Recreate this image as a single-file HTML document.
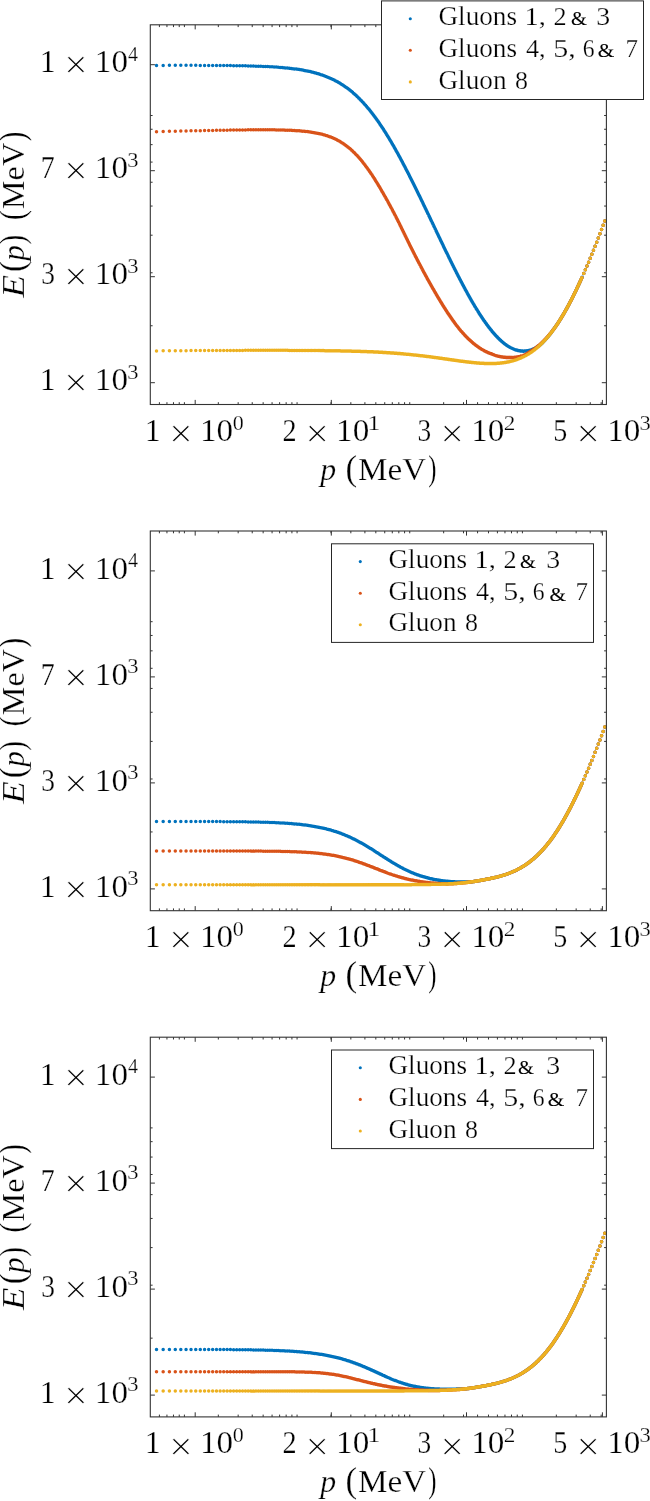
<!DOCTYPE html><html><head><meta charset="utf-8"><title>E(p) vs p</title><style>html,body{margin:0;padding:0;background:#fff;}svg{display:block;}text{fill:#000;stroke:#fff;stroke-width:0.25px;}text.x{stroke-width:0.6px;}text.a{stroke:#000;stroke-width:0.12px;}</style></head><body><svg width="650" height="1501" viewBox="0 0 650 1501" font-family="'Liberation Serif', serif" fill="#000"><g>
<path d="M156.51 65.41h0M163.17 65.39h0M169.41 65.37h0M175.28 65.36h0M180.81 65.36h0M186.05 65.36h0M191.02 65.36h0M195.75 65.37h0M200.27 65.38h0M204.58 65.40h0M208.71 65.41h0M212.68 65.44h0M216.49 65.46h0M220.15 65.49h0M223.69 65.52h0M227.10 65.55h0M230.40 65.59h0M233.59 65.63h0M236.67 65.68h0M239.67 65.73h0M242.57 65.78h0M245.39 65.84h0M248.14 65.91h0M250.80 65.97h0M253.40 66.05h0M255.93 66.13h0M258.40 66.21h0M260.80 66.30h0M263.15 66.39h0M265.44 66.49h0M267.68 66.60h0M269.87 66.71h0M272.01 66.83h0M274.11 66.96h0M276.16 67.10h0M278.17 67.24h0M280.14 67.39h0M282.07 67.54h0M283.97 67.71h0M285.82 67.88h0M287.65 68.06h0M289.44 68.25h0M291.19 68.45h0M292.92 68.66h0M294.62 68.88h0M296.28 69.11h0M297.92 69.34h0M299.54 69.59h0M301.12 69.85h0M302.68 70.12h0M304.22 70.40h0M305.73 70.69h0M307.22 70.99h0M308.69 71.30h0M310.14 71.62h0M311.56 71.96h0M312.97 72.31h0M314.35 72.66h0M315.72 73.04h0M317.06 73.42h0M318.39 73.81h0M319.70 74.22h0M320.99 74.64h0M322.27 75.07h0M323.53 75.52h0M324.77 75.98h0M326.00 76.45h0M327.21 76.93h0M328.41 77.43h0M329.60 77.94h0M330.76 78.46h0M331.92 79.00h0M333.06 79.55h0M334.19 80.11h0M335.31 80.68h0M336.41 81.27h0M337.50 81.87h0M338.58 82.49h0M339.65 83.11h0M340.70 83.75h0M341.75 84.40h0M342.78 85.07h0M343.81 85.74h0M344.82 86.43h0M345.82 87.13h0M346.81 87.85h0M347.79 88.57h0M348.76 89.31h0M349.73 90.06h0M350.68 90.82h0M351.62 91.59h0M352.56 92.37h0M353.48 93.17h0M354.40 93.97h0M355.31 94.79h0M356.21 95.61h0M357.10 96.45h0M357.99 97.30h0M358.86 98.15h0M359.73 99.02h0M360.59 99.89h0M361.45 100.78h0M362.29 101.67h0M363.13 102.57h0M363.96 103.48h0M364.79 104.40h0M365.60 105.33h0M366.42 106.26h0M367.22 107.20h0M368.02 108.15h0M368.81 109.11h0M369.59 110.07h0M370.37 111.04h0M371.14 112.01h0M371.91 113.00h0M372.67 113.98h0M373.43 114.98h0M374.18 115.98h0M374.92 116.98h0M375.66 117.99h0M376.39 119.00h0M377.11 120.02h0M377.84 121.04h0M378.55 122.07h0M379.26 123.10h0M379.97 124.14h0M380.67 125.17h0M381.36 126.21h0M382.05 127.26h0M382.74 128.31h0M383.42 129.36h0M384.10 130.41h0M384.77 131.46h0M385.44 132.52h0M386.10 133.58h0M386.76 134.64h0M387.41 135.70h0M388.06 136.76h0M388.71 137.83h0M389.35 138.89h0M389.98 139.96h0M390.62 141.03h0M391.25 142.09h0M391.87 143.16h0M392.49 144.23h0M393.11 145.30h0M393.72 146.37h0M394.33 147.44h0M394.93 148.51h0M395.54 149.58h0M396.13 150.64h0M396.73 151.71h0M397.32 152.78h0M397.91 153.84h0M398.49 154.91h0M399.07 155.97h0M399.65 157.04h0M400.22 158.10h0M400.79 159.16h0M401.36 160.22h0M401.92 161.28h0M402.48 162.33h0M403.04 163.39h0M403.59 164.44h0M404.14 165.49h0M404.69 166.54h0M405.23 167.59h0M405.78 168.63h0M406.31 169.67h0M406.85 170.71h0M407.38 171.75h0M407.91 172.79h0M408.44 173.82h0M408.96 174.85h0M409.49 175.88h0M410.00 176.91h0M410.52 177.93h0M411.03 178.95h0M411.54 179.97h0M412.05 180.99h0M412.56 182.00h0M413.06 183.01h0M413.56 184.02h0M414.06 185.02h0M414.55 186.02h0M415.04 187.02h0M415.53 188.01h0M416.02 189.01h0M416.51 190.00h0M416.99 190.98h0M417.47 191.96h0M417.95 192.94h0M418.42 193.92h0M418.90 194.89h0M419.37 195.86h0M419.84 196.83h0M420.31 197.79h0M420.77 198.75h0M421.23 199.71h0M421.69 200.66h0M422.15 201.61h0M422.61 202.56h0M423.06 203.50h0M423.51 204.44h0M423.96 205.38h0M424.41 206.31h0M424.85 207.24h0M425.30 208.17h0M425.74 209.09h0M426.18 210.01h0M426.62 210.92h0M427.05 211.84h0M427.48 212.74h0M427.92 213.65h0M428.35 214.55h0M428.77 215.45h0M429.20 216.34h0M429.62 217.23h0M430.05 218.12h0M430.47 219.00h0M430.89 219.88h0M431.30 220.76h0M431.72 221.63h0M432.13 222.50h0M432.54 223.37h0M432.95 224.23h0M433.36 225.09h0M433.77 225.94h0M434.17 226.79h0M434.58 227.64h0M434.98 228.48h0M435.38 229.32h0M435.78 230.16h0M436.17 230.99h0M436.57 231.82h0M436.96 232.65h0M437.35 233.47h0M437.74 234.29h0M438.13 235.10h0M438.52 235.92h0M438.91 236.72h0M439.29 237.53h0M439.67 238.33h0M440.05 239.12h0M440.43 239.92h0M440.81 240.71h0M441.19 241.49h0M441.56 242.28h0M441.94 243.06h0M442.31 243.83h0M442.68 244.60h0M443.05 245.37h0M443.42 246.14h0M443.79 246.90h0M444.15 247.66h0M444.52 248.41h0M444.88 249.16h0M445.24 249.91h0M445.60 250.65h0M445.96 251.39h0M446.32 252.13h0M446.67 252.87h0M447.03 253.60h0M447.38 254.32h0M447.74 255.04h0M448.09 255.76h0M448.44 256.48h0M448.79 257.19h0M449.13 257.90h0M449.48 258.61h0M449.82 259.31h0M450.17 260.01h0M450.51 260.70h0M450.85 261.40h0M451.19 262.09h0M451.53 262.77h0M451.87 263.45h0M452.21 264.13h0M452.54 264.81h0M452.88 265.48h0M453.21 266.15h0M453.54 266.81h0M453.87 267.47h0M454.20 268.13h0M454.53 268.79h0M454.86 269.44h0M455.18 270.09h0M455.51 270.73h0M455.83 271.37h0M456.16 272.01h0M456.48 272.65h0M456.80 273.28h0M457.12 273.91h0M457.44 274.53h0M457.76 275.16h0M458.08 275.77h0M458.39 276.39h0M458.71 277.00h0M459.02 277.61h0M459.33 278.22h0M459.65 278.82h0M459.96 279.42h0M460.27 280.02h0M460.58 280.61h0M460.88 281.20h0M461.19 281.79h0M461.50 282.37h0M461.80 282.95h0M462.11 283.53h0M462.41 284.10h0M462.71 284.67h0M463.01 285.24h0M463.31 285.81h0M463.61 286.37h0M463.91 286.93h0M464.21 287.48h0M464.51 288.04h0M464.80 288.59h0M465.10 289.13h0M465.39 289.68h0M465.68 290.22h0M465.98 290.76h0M466.27 291.29h0M466.56 291.82h0M466.85 292.35h0M467.14 292.88h0M467.43 293.40h0M467.71 293.92h0M468.00 294.43h0M468.29 294.95h0M468.57 295.46h0M468.85 295.97h0M469.14 296.47h0M469.42 296.97h0M469.70 297.47h0M469.98 297.97h0M470.26 298.46h0M470.54 298.95h0M470.82 299.44h0M471.10 299.92h0M471.37 300.40h0M471.65 300.88h0M472.20 301.83h0M472.74 302.77h0M473.29 303.69h0M473.83 304.61h0M474.37 305.51h0M474.90 306.41h0M475.43 307.29h0M475.96 308.16h0M476.49 309.02h0M477.01 309.87h0M477.53 310.70h0M478.05 311.53h0M478.56 312.35h0M479.07 313.16h0M479.58 313.95h0M480.09 314.74h0M480.60 315.51h0M481.10 316.28h0M481.60 317.03h0M482.09 317.77h0M482.59 318.51h0M483.08 319.23h0M483.57 319.95h0M484.05 320.65h0M484.54 321.35h0M485.02 322.03h0M485.50 322.70h0M485.98 323.37h0M486.45 324.03h0M486.92 324.67h0M487.39 325.31h0M487.86 325.94h0M488.33 326.55h0M488.79 327.16h0M489.25 327.76h0M489.71 328.35h0M490.17 328.93h0M490.62 329.50h0M491.08 330.07h0M491.53 330.62h0M491.98 331.17h0M492.42 331.70h0M492.87 332.23h0M493.31 332.75h0M493.75 333.26h0M494.19 333.76h0M494.63 334.26h0M495.06 334.74h0M495.49 335.22h0M495.93 335.69h0M496.35 336.15h0M496.78 336.60h0M497.21 337.04h0M497.63 337.48h0M498.05 337.91h0M498.47 338.33h0M498.89 338.74h0M499.31 339.14h0M499.72 339.54h0M500.13 339.93h0M500.54 340.31h0M500.95 340.68h0M501.56 341.23h0M502.17 341.76h0M502.77 342.27h0M503.37 342.76h0M503.97 343.24h0M504.56 343.71h0M505.15 344.16h0M505.74 344.59h0M506.32 345.00h0M506.90 345.41h0M507.47 345.79h0M508.04 346.16h0M508.61 346.52h0M509.18 346.86h0M509.74 347.19h0M510.30 347.50h0M510.85 347.80h0M511.40 348.08h0M511.95 348.35h0M512.50 348.61h0M513.04 348.85h0M513.58 349.09h0M514.12 349.30h0M514.65 349.51h0M515.18 349.70h0M515.71 349.88h0M516.24 350.04h0M516.93 350.24h0M517.63 350.42h0M518.31 350.58h0M518.99 350.72h0M519.67 350.84h0M520.34 350.94h0M521.01 351.01h0M521.67 351.07h0M522.33 351.11h0M522.99 351.13h0M523.64 351.13h0M524.28 351.11h0M524.93 351.07h0M525.56 351.02h0M526.20 350.95h0M526.82 350.86h0M527.45 350.75h0M528.07 350.63h0M528.69 350.49h0M529.30 350.33h0M529.91 350.16h0M530.52 349.98h0M531.12 349.78h0M531.72 349.57h0M532.31 349.35h0M532.90 349.11h0M533.49 348.86h0M534.08 348.59h0M534.66 348.31h0M535.23 348.02h0M535.81 347.72h0M536.38 347.40h0M536.94 347.07h0M537.51 346.73h0M538.07 346.38h0M538.63 346.01h0M539.18 345.64h0M539.73 345.25h0M540.28 344.85h0M540.69 344.48h0M541.10 344.08h0M541.50 343.69h0M541.91 343.29h0M542.31 342.88h0M542.71 342.48h0M543.11 342.07h0M543.51 341.65h0M543.90 341.23h0M544.30 340.81h0M544.69 340.39h0M545.08 339.96h0M545.47 339.53h0M545.86 339.10h0M546.24 338.66h0M546.63 338.22h0M547.01 337.78h0M547.39 337.34h0M547.77 336.89h0M548.15 336.44h0M548.53 335.98h0M548.91 335.52h0M549.28 335.06h0M549.65 334.60h0M550.03 334.14h0M550.40 333.67h0M550.77 333.20h0M551.13 332.72h0M551.50 332.24h0M551.86 331.76h0M552.23 331.28h0M552.59 330.80h0M552.95 330.31h0M553.31 329.82h0M553.67 329.33h0M554.03 328.83h0M554.38 328.34h0M554.74 327.84h0M555.09 327.34h0M555.44 326.83h0M555.79 326.32h0M556.14 325.82h0M556.49 325.30h0M556.83 324.79h0M557.18 324.28h0M557.52 323.76h0M557.87 323.24h0M558.21 322.72h0M558.55 322.19h0M558.89 321.67h0M559.23 321.14h0M559.57 320.61h0M559.90 320.08h0M560.24 319.55h0M560.57 319.01h0M560.90 318.47h0M561.23 317.93h0M561.56 317.39h0M561.89 316.85h0M562.22 316.31h0M562.55 315.76h0M562.88 315.22h0M563.20 314.67h0M563.52 314.12h0M563.85 313.56h0M564.17 313.01h0M564.49 312.46h0M564.81 311.90h0M565.13 311.34h0M565.44 310.78h0M565.76 310.22h0M566.08 309.66h0M566.39 309.10h0M566.70 308.53h0M567.02 307.97h0M567.33 307.40h0M567.64 306.83h0M567.95 306.26h0M568.26 305.69h0M568.56 305.12h0M568.87 304.55h0M569.18 303.98h0M569.48 303.40h0M569.78 302.82h0M570.09 302.25h0M570.39 301.67h0M570.69 301.09h0M570.99 300.51h0M571.29 299.93h0M571.59 299.35h0M571.88 298.77h0M572.18 298.19h0M572.48 297.60h0M572.77 297.02h0M573.06 296.43h0M573.36 295.85h0M573.65 295.26h0M573.94 294.67h0M574.23 294.08h0M574.52 293.50h0M574.81 292.91h0M575.10 292.32h0M575.38 291.73h0M575.67 291.14h0M575.95 290.54h0M576.24 289.95h0M576.52 289.36h0M576.80 288.77h0M577.09 288.17h0M577.37 287.58h0M577.65 286.99h0M577.93 286.39h0M578.21 285.80h0M578.48 285.20h0M578.76 284.60h0M579.04 284.01h0M579.31 283.41h0M579.59 282.82h0M579.86 282.22h0M580.13 281.62h0M580.41 281.02h0M580.68 280.43h0M580.95 279.83h0M581.22 279.23h0M581.49 278.63h0M581.76 278.03h0M582.12 277.22h0M583.74 273.56h0M585.36 269.84h0M586.98 266.05h0M588.60 262.21h0M590.22 258.31h0M591.84 254.35h0M593.46 250.34h0M595.08 246.28h0M596.70 242.17h0M598.32 238.01h0M599.94 233.81h0M601.56 229.56h0M603.18 225.27h0M604.80 220.93h0" stroke="#0072BD" stroke-width="3.50" stroke-linecap="round" fill="none"/>
<path d="M156.51 131.68h0M163.17 131.51h0M169.41 131.35h0M175.28 131.20h0M180.81 131.07h0M186.05 130.95h0M191.02 130.83h0M195.75 130.73h0M200.27 130.63h0M204.58 130.54h0M208.71 130.46h0M212.68 130.38h0M216.49 130.31h0M220.15 130.24h0M223.69 130.18h0M227.10 130.13h0M230.40 130.08h0M233.59 130.03h0M236.67 129.99h0M239.67 129.95h0M242.57 129.92h0M245.39 129.89h0M248.14 129.87h0M250.80 129.84h0M253.40 129.83h0M255.93 129.82h0M258.40 129.81h0M260.80 129.80h0M263.15 129.80h0M265.44 129.81h0M267.68 129.82h0M269.87 129.83h0M272.01 129.85h0M274.11 129.87h0M276.16 129.90h0M278.17 129.93h0M280.14 129.97h0M282.07 130.02h0M283.97 130.07h0M285.82 130.13h0M287.65 130.19h0M289.44 130.26h0M291.19 130.34h0M292.92 130.43h0M294.62 130.52h0M296.28 130.63h0M297.92 130.74h0M299.54 130.86h0M301.12 130.99h0M302.68 131.13h0M304.22 131.28h0M305.73 131.44h0M307.22 131.61h0M308.69 131.80h0M310.14 131.99h0M311.56 132.20h0M312.97 132.42h0M314.35 132.65h0M315.72 132.90h0M317.06 133.16h0M318.39 133.44h0M319.70 133.73h0M320.99 134.04h0M322.27 134.36h0M323.53 134.70h0M324.77 135.06h0M326.00 135.43h0M327.21 135.82h0M328.41 136.23h0M329.60 136.66h0M330.76 137.11h0M331.92 137.57h0M333.06 138.05h0M334.19 138.56h0M335.31 139.08h0M336.41 139.62h0M337.50 140.18h0M338.58 140.77h0M339.65 141.37h0M340.70 141.99h0M341.75 142.64h0M342.78 143.30h0M343.81 143.98h0M344.82 144.69h0M345.82 145.41h0M346.81 146.16h0M347.79 146.92h0M348.76 147.71h0M349.73 148.51h0M350.68 149.34h0M351.62 150.18h0M352.56 151.04h0M353.48 151.92h0M354.40 152.82h0M355.31 153.73h0M356.21 154.66h0M357.10 155.61h0M357.99 156.57h0M358.86 157.55h0M359.73 158.55h0M360.59 159.56h0M361.45 160.58h0M362.29 161.61h0M363.13 162.66h0M363.96 163.72h0M364.79 164.79h0M365.60 165.88h0M366.42 166.97h0M367.22 168.07h0M368.02 169.18h0M368.81 170.31h0M369.59 171.43h0M370.37 172.57h0M371.14 173.72h0M371.91 174.87h0M372.67 176.02h0M373.43 177.18h0M374.18 178.35h0M374.92 179.52h0M375.66 180.70h0M376.39 181.88h0M377.11 183.06h0M377.84 184.24h0M378.55 185.43h0M379.26 186.62h0M379.97 187.81h0M380.67 189.00h0M381.36 190.19h0M382.05 191.38h0M382.74 192.57h0M383.42 193.76h0M384.10 194.95h0M384.77 196.13h0M385.44 197.32h0M386.10 198.50h0M386.76 199.68h0M387.41 200.86h0M388.06 202.04h0M388.71 203.22h0M389.35 204.39h0M389.98 205.56h0M390.62 206.73h0M391.25 207.90h0M391.87 209.07h0M392.49 210.24h0M393.11 211.41h0M393.72 212.58h0M394.33 213.74h0M394.93 214.91h0M395.54 216.08h0M396.13 217.25h0M396.73 218.42h0M397.32 219.58h0M397.91 220.75h0M398.49 221.92h0M399.07 223.09h0M399.65 224.26h0M400.22 225.42h0M400.79 226.58h0M401.36 227.74h0M401.92 228.90h0M402.48 230.04h0M403.04 231.19h0M403.59 232.33h0M404.14 233.46h0M404.69 234.59h0M405.23 235.71h0M405.78 236.82h0M406.31 237.93h0M406.85 239.03h0M407.38 240.12h0M407.91 241.20h0M408.44 242.27h0M408.96 243.34h0M409.49 244.39h0M410.00 245.44h0M410.52 246.48h0M411.03 247.51h0M411.54 248.53h0M412.05 249.55h0M412.56 250.55h0M413.06 251.55h0M413.56 252.54h0M414.06 253.52h0M414.55 254.50h0M415.04 255.46h0M415.53 256.42h0M416.02 257.37h0M416.51 258.32h0M416.99 259.25h0M417.47 260.18h0M417.95 261.11h0M418.42 262.02h0M418.90 262.93h0M419.37 263.83h0M419.84 264.72h0M420.31 265.61h0M420.77 266.49h0M421.23 267.36h0M421.69 268.23h0M422.15 269.09h0M422.61 269.95h0M423.06 270.79h0M423.51 271.63h0M423.96 272.47h0M424.41 273.30h0M424.85 274.12h0M425.30 274.94h0M425.74 275.75h0M426.18 276.55h0M426.62 277.35h0M427.05 278.14h0M427.48 278.93h0M427.92 279.71h0M428.35 280.49h0M428.77 281.26h0M429.20 282.02h0M429.62 282.78h0M430.05 283.53h0M430.47 284.28h0M430.89 285.02h0M431.30 285.76h0M431.72 286.49h0M432.13 287.22h0M432.54 287.94h0M432.95 288.66h0M433.36 289.37h0M433.77 290.08h0M434.17 290.78h0M434.58 291.48h0M434.98 292.17h0M435.38 292.86h0M435.78 293.54h0M436.17 294.22h0M436.57 294.90h0M436.96 295.56h0M437.35 296.23h0M437.74 296.89h0M438.13 297.55h0M438.52 298.20h0M438.91 298.84h0M439.29 299.48h0M439.67 300.12h0M440.05 300.75h0M440.43 301.38h0M440.81 302.00h0M441.19 302.62h0M441.56 303.24h0M441.94 303.84h0M442.31 304.45h0M442.68 305.05h0M443.05 305.64h0M443.42 306.23h0M443.79 306.82h0M444.15 307.40h0M444.52 307.98h0M444.88 308.55h0M445.24 309.12h0M445.60 309.68h0M445.96 310.24h0M446.32 310.79h0M446.67 311.34h0M447.03 311.88h0M447.38 312.42h0M447.74 312.96h0M448.09 313.49h0M448.44 314.01h0M448.79 314.54h0M449.13 315.05h0M449.48 315.56h0M449.82 316.07h0M450.17 316.58h0M450.51 317.07h0M450.85 317.57h0M451.19 318.06h0M451.53 318.55h0M451.87 319.03h0M452.21 319.50h0M452.54 319.98h0M452.88 320.44h0M453.21 320.91h0M453.54 321.37h0M453.87 321.82h0M454.20 322.27h0M454.53 322.72h0M454.86 323.16h0M455.51 324.03h0M456.16 324.89h0M456.80 325.72h0M457.44 326.54h0M458.08 327.35h0M458.71 328.14h0M459.33 328.91h0M459.96 329.66h0M460.58 330.40h0M461.19 331.13h0M461.80 331.84h0M462.41 332.53h0M463.01 333.21h0M463.61 333.87h0M464.21 334.52h0M464.80 335.16h0M465.39 335.78h0M465.98 336.39h0M466.56 336.99h0M467.14 337.57h0M467.71 338.14h0M468.29 338.70h0M468.85 339.24h0M469.42 339.78h0M469.98 340.30h0M470.54 340.81h0M471.10 341.31h0M471.65 341.79h0M472.20 342.27h0M472.74 342.74h0M473.29 343.19h0M473.83 343.64h0M474.37 344.07h0M474.90 344.50h0M475.43 344.91h0M475.96 345.32h0M476.49 345.71h0M477.01 346.10h0M477.53 346.48h0M478.05 346.84h0M478.56 347.20h0M479.07 347.55h0M479.58 347.90h0M480.09 348.23h0M480.60 348.56h0M481.10 348.88h0M481.60 349.19h0M482.09 349.49h0M482.59 349.78h0M483.08 350.07h0M483.57 350.35h0M484.05 350.62h0M484.54 350.89h0M485.26 351.28h0M485.98 351.65h0M486.69 352.00h0M487.39 352.34h0M488.10 352.67h0M488.79 352.99h0M489.48 353.29h0M490.17 353.58h0M490.85 353.85h0M491.53 354.12h0M492.20 354.37h0M492.87 354.61h0M493.53 354.84h0M494.19 355.06h0M494.84 355.26h0M495.49 355.46h0M496.14 355.65h0M496.78 355.82h0M497.42 355.99h0M498.05 356.15h0M498.68 356.30h0M499.31 356.43h0M499.93 356.56h0M500.54 356.69h0M501.16 356.80h0M501.77 356.90h0M502.37 357.00h0M502.97 357.09h0M503.57 357.17h0M504.17 357.25h0M504.76 357.31h0M505.35 357.37h0M505.93 357.42h0M506.51 357.47h0M507.09 357.51h0M507.66 357.54h0M508.23 357.56h0M508.80 357.58h0M509.36 357.60h0M509.92 357.60h0M510.48 357.60h0M511.04 357.60h0M511.59 357.59h0M512.32 357.56h0M513.04 357.53h0M513.76 357.49h0M514.48 357.43h0M515.18 357.37h0M515.89 357.29h0M516.59 357.20h0M517.28 357.09h0M517.97 356.97h0M518.65 356.83h0M519.33 356.67h0M520.01 356.50h0M520.68 356.31h0M521.34 356.11h0M522.00 355.88h0M522.66 355.65h0M523.31 355.39h0M523.96 355.12h0M524.60 354.83h0M525.24 354.51h0M525.88 354.16h0M526.51 353.79h0M527.14 353.42h0M527.76 353.04h0M528.38 352.65h0M528.84 352.35h0M529.30 352.05h0M529.76 351.74h0M530.37 351.35h0M530.97 350.98h0M531.57 350.61h0M532.16 350.23h0M532.76 349.84h0M533.34 349.45h0M533.93 349.05h0M534.51 348.64h0M535.09 348.23h0M535.66 347.81h0M536.24 347.38h0M536.80 346.95h0M537.37 346.51h0M537.93 346.06h0M538.49 345.60h0M539.04 345.14h0M539.59 344.67h0M540.14 344.20h0M540.69 343.72h0M541.23 343.23h0M541.77 342.73h0M542.17 342.36h0M542.58 341.98h0M542.98 341.59h0M543.37 341.20h0M543.77 340.81h0M544.16 340.42h0M544.56 340.02h0M544.95 339.62h0M545.34 339.21h0M545.73 338.80h0M546.12 338.39h0M546.50 337.97h0M546.88 337.55h0M547.27 337.12h0M547.65 336.70h0M548.03 336.26h0M548.41 335.83h0M548.78 335.39h0M549.16 334.95h0M549.53 334.50h0M549.90 334.06h0M550.27 333.60h0M550.64 333.15h0M551.01 332.69h0M551.38 332.23h0M551.74 331.76h0M552.11 331.30h0M552.47 330.82h0M552.83 330.35h0M553.19 329.87h0M553.55 329.39h0M553.91 328.91h0M554.26 328.42h0M554.62 327.93h0M554.97 327.44h0M555.32 326.95h0M555.67 326.45h0M556.02 325.95h0M556.37 325.44h0M556.72 324.94h0M557.07 324.43h0M557.41 323.91h0M557.75 323.40h0M558.10 322.88h0M558.44 322.36h0M558.78 321.84h0M559.12 321.31h0M559.45 320.79h0M559.79 320.26h0M560.12 319.72h0M560.46 319.19h0M560.79 318.65h0M561.12 318.11h0M561.45 317.57h0M561.78 317.03h0M562.11 316.49h0M562.44 315.94h0M562.77 315.40h0M563.09 314.85h0M563.42 314.30h0M563.74 313.75h0M564.06 313.20h0M564.38 312.64h0M564.70 312.09h0M565.02 311.53h0M565.34 310.97h0M565.66 310.41h0M565.97 309.85h0M566.29 309.29h0M566.60 308.72h0M566.91 308.16h0M567.22 307.59h0M567.54 307.02h0M567.84 306.45h0M568.15 305.88h0M568.46 305.31h0M568.77 304.74h0M569.07 304.17h0M569.38 303.59h0M569.68 303.02h0M569.99 302.44h0M570.29 301.86h0M570.59 301.28h0M570.89 300.71h0M571.19 300.13h0M571.49 299.54h0M571.79 298.96h0M572.08 298.38h0M572.38 297.80h0M572.67 297.21h0M572.97 296.63h0M573.26 296.04h0M573.55 295.46h0M573.84 294.87h0M574.13 294.28h0M574.42 293.69h0M574.71 293.10h0M575.00 292.51h0M575.29 291.92h0M575.57 291.33h0M575.86 290.74h0M576.14 290.15h0M576.43 289.56h0M576.71 288.96h0M576.99 288.37h0M577.27 287.78h0M577.55 287.18h0M577.83 286.59h0M578.11 285.99h0M578.39 285.40h0M578.67 284.80h0M578.94 284.21h0M579.22 283.61h0M579.50 283.01h0M579.77 282.42h0M580.04 281.82h0M580.32 281.22h0M580.59 280.62h0M580.86 280.03h0M581.13 279.43h0M581.40 278.83h0M581.67 278.23h0M581.94 277.63h0M583.74 273.56h0M585.36 269.84h0M586.98 266.05h0M588.60 262.21h0M590.22 258.31h0M591.84 254.35h0M593.46 250.34h0M595.08 246.28h0M596.70 242.17h0M598.32 238.01h0M599.94 233.81h0M601.56 229.56h0M603.18 225.27h0M604.80 220.93h0" stroke="#D95319" stroke-width="3.50" stroke-linecap="round" fill="none"/>
<path d="M156.51 350.90h0M163.17 350.84h0M169.41 350.79h0M175.28 350.74h0M180.81 350.69h0M186.05 350.66h0M191.02 350.62h0M195.75 350.59h0M200.27 350.56h0M204.58 350.54h0M208.71 350.51h0M212.68 350.49h0M216.49 350.48h0M220.15 350.46h0M223.69 350.44h0M227.10 350.43h0M230.40 350.42h0M233.59 350.41h0M236.67 350.40h0M239.67 350.39h0M242.57 350.38h0M245.39 350.37h0M248.14 350.37h0M250.80 350.36h0M253.40 350.36h0M255.93 350.35h0M258.40 350.35h0M260.80 350.35h0M263.15 350.35h0M265.44 350.35h0M267.68 350.35h0M269.87 350.35h0M272.01 350.35h0M274.11 350.35h0M276.16 350.35h0M278.17 350.35h0M280.14 350.36h0M282.07 350.36h0M283.97 350.36h0M285.82 350.37h0M287.65 350.37h0M289.44 350.38h0M291.19 350.38h0M292.92 350.39h0M294.62 350.40h0M296.28 350.40h0M297.92 350.41h0M299.54 350.42h0M301.12 350.43h0M302.68 350.44h0M304.22 350.45h0M305.73 350.45h0M307.22 350.46h0M308.69 350.47h0M310.14 350.49h0M311.56 350.50h0M312.97 350.51h0M314.35 350.52h0M315.72 350.53h0M317.06 350.54h0M318.39 350.56h0M319.70 350.57h0M320.99 350.59h0M322.27 350.60h0M323.53 350.61h0M324.77 350.63h0M326.00 350.64h0M327.21 350.66h0M328.41 350.68h0M329.60 350.69h0M330.76 350.71h0M331.92 350.73h0M333.06 350.74h0M334.19 350.76h0M335.31 350.78h0M336.41 350.80h0M337.50 350.82h0M338.58 350.84h0M339.65 350.86h0M340.70 350.88h0M341.75 350.90h0M342.78 350.92h0M343.81 350.94h0M344.82 350.96h0M345.82 350.99h0M346.81 351.01h0M347.79 351.03h0M348.76 351.06h0M349.73 351.08h0M350.68 351.10h0M351.62 351.13h0M352.56 351.15h0M353.48 351.18h0M354.40 351.21h0M355.31 351.23h0M356.21 351.26h0M357.10 351.29h0M357.99 351.31h0M358.86 351.34h0M359.73 351.37h0M360.59 351.40h0M361.45 351.43h0M362.29 351.46h0M363.13 351.49h0M363.96 351.52h0M364.79 351.55h0M365.60 351.58h0M366.42 351.61h0M367.22 351.64h0M368.02 351.67h0M368.81 351.71h0M369.59 351.74h0M370.37 351.77h0M371.14 351.80h0M371.91 351.84h0M372.67 351.87h0M373.43 351.91h0M374.18 351.94h0M374.92 351.98h0M375.66 352.01h0M376.39 352.05h0M377.11 352.09h0M377.84 352.12h0M378.55 352.16h0M379.26 352.20h0M379.97 352.24h0M380.67 352.27h0M381.36 352.31h0M382.05 352.35h0M382.74 352.39h0M383.42 352.43h0M384.10 352.47h0M384.77 352.51h0M385.44 352.55h0M386.10 352.59h0M386.76 352.63h0M387.41 352.68h0M388.06 352.72h0M388.71 352.76h0M389.35 352.80h0M389.98 352.85h0M390.62 352.89h0M391.25 352.93h0M391.87 352.98h0M392.49 353.02h0M393.11 353.06h0M393.72 353.11h0M394.33 353.15h0M394.93 353.20h0M395.54 353.25h0M396.13 353.29h0M396.73 353.34h0M397.32 353.38h0M397.91 353.43h0M398.49 353.48h0M399.07 353.52h0M399.65 353.57h0M400.22 353.62h0M400.79 353.67h0M401.36 353.72h0M401.92 353.76h0M402.48 353.81h0M403.04 353.86h0M403.59 353.91h0M404.14 353.96h0M405.23 354.06h0M406.31 354.16h0M407.38 354.26h0M408.44 354.36h0M409.49 354.47h0M410.52 354.57h0M411.54 354.67h0M412.56 354.78h0M413.56 354.88h0M414.55 354.99h0M415.53 355.09h0M416.51 355.20h0M417.47 355.31h0M418.42 355.42h0M419.37 355.53h0M420.31 355.63h0M421.23 355.74h0M422.15 355.85h0M423.06 355.96h0M423.96 356.07h0M424.85 356.18h0M425.74 356.29h0M426.62 356.40h0M427.48 356.51h0M428.35 356.62h0M429.20 356.73h0M430.05 356.84h0M430.89 356.95h0M431.72 357.06h0M432.54 357.17h0M433.36 357.28h0M434.17 357.39h0M434.98 357.50h0M435.78 357.61h0M436.57 357.72h0M437.35 357.83h0M438.13 357.93h0M438.91 358.04h0M439.67 358.15h0M440.43 358.26h0M441.19 358.36h0M441.94 358.47h0M442.68 358.57h0M443.42 358.68h0M444.15 358.78h0M444.88 358.89h0M445.60 358.99h0M446.32 359.09h0M447.03 359.19h0M447.74 359.29h0M448.44 359.39h0M449.13 359.49h0M449.82 359.59h0M450.51 359.69h0M451.19 359.79h0M451.87 359.88h0M452.54 359.98h0M453.21 360.07h0M453.87 360.17h0M454.53 360.26h0M455.18 360.35h0M455.83 360.44h0M456.48 360.53h0M457.12 360.62h0M457.76 360.71h0M458.39 360.80h0M459.02 360.88h0M459.65 360.97h0M460.27 361.05h0M460.88 361.13h0M461.50 361.21h0M462.11 361.29h0M462.71 361.37h0M463.31 361.45h0M463.91 361.52h0M464.51 361.60h0M465.10 361.67h0M465.68 361.75h0M466.27 361.82h0M466.85 361.89h0M467.43 361.96h0M468.00 362.02h0M468.57 362.09h0M469.14 362.16h0M469.70 362.22h0M470.26 362.28h0M470.82 362.34h0M471.37 362.40h0M471.92 362.46h0M472.47 362.52h0M473.29 362.60h0M474.10 362.68h0M474.90 362.76h0M475.70 362.83h0M476.49 362.90h0M477.27 362.96h0M478.05 363.03h0M478.82 363.09h0M479.58 363.14h0M480.34 363.20h0M481.10 363.24h0M481.84 363.29h0M482.59 363.33h0M483.32 363.37h0M484.05 363.41h0M484.78 363.44h0M485.50 363.46h0M486.21 363.49h0M486.92 363.51h0M487.63 363.53h0M488.33 363.54h0M489.02 363.55h0M489.71 363.55h0M490.40 363.56h0M491.08 363.55h0M491.75 363.55h0M492.42 363.54h0M493.09 363.52h0M493.75 363.51h0M494.41 363.48h0M495.06 363.46h0M495.71 363.43h0M496.35 363.40h0M496.99 363.36h0M497.63 363.32h0M498.26 363.27h0M498.89 363.22h0M499.51 363.17h0M500.13 363.11h0M500.75 363.05h0M501.36 362.99h0M501.97 362.92h0M502.57 362.84h0M503.17 362.76h0M503.77 362.68h0M504.37 362.60h0M504.96 362.51h0M505.54 362.41h0M506.12 362.31h0M506.70 362.21h0M507.28 362.10h0M507.85 361.99h0M508.42 361.88h0M508.99 361.76h0M509.55 361.63h0M510.11 361.51h0M510.67 361.37h0M511.22 361.24h0M511.77 361.10h0M512.32 360.95h0M512.86 360.80h0M513.40 360.65h0M513.94 360.49h0M514.48 360.33h0M515.01 360.16h0M515.54 359.99h0M516.06 359.82h0M516.59 359.64h0M517.11 359.45h0M517.63 359.27h0M518.31 359.01h0M518.99 358.75h0M519.67 358.47h0M520.34 358.19h0M521.01 357.91h0M521.67 357.61h0M522.33 357.31h0M522.99 357.00h0M523.64 356.68h0M524.28 356.36h0M524.93 356.03h0M525.56 355.69h0M526.20 355.34h0M526.82 354.98h0M527.45 354.62h0M528.07 354.25h0M528.69 353.88h0M529.30 353.49h0M529.91 353.10h0M530.52 352.70h0M531.12 352.30h0M531.72 351.88h0M532.31 351.46h0M532.90 351.04h0M533.49 350.60h0M534.08 350.16h0M534.66 349.71h0M535.09 349.37h0M535.52 349.03h0M535.95 348.68h0M536.38 348.33h0M536.80 347.97h0M537.23 347.61h0M537.65 347.25h0M538.07 346.88h0M538.49 346.51h0M538.90 346.14h0M539.32 345.76h0M539.73 345.38h0M540.14 345.00h0M540.55 344.61h0M540.96 344.21h0M541.37 343.82h0M541.77 343.42h0M542.17 343.02h0M542.58 342.61h0M542.98 342.20h0M543.37 341.79h0M543.77 341.37h0M544.16 340.95h0M544.56 340.53h0M544.95 340.11h0M545.34 339.68h0M545.73 339.25h0M546.12 338.81h0M546.50 338.37h0M546.88 337.93h0M547.27 337.49h0M547.65 337.04h0M548.03 336.59h0M548.41 336.13h0M548.78 335.68h0M549.16 335.22h0M549.53 334.76h0M549.90 334.29h0M550.27 333.82h0M550.64 333.35h0M551.01 332.88h0M551.38 332.40h0M551.74 331.92h0M552.11 331.44h0M552.47 330.96h0M552.83 330.47h0M553.19 329.98h0M553.55 329.49h0M553.91 329.00h0M554.26 328.50h0M554.62 328.00h0M554.97 327.50h0M555.32 327.00h0M555.67 326.49h0M556.02 325.99h0M556.37 325.48h0M556.72 324.96h0M557.07 324.45h0M557.41 323.93h0M557.75 323.41h0M558.10 322.89h0M558.44 322.37h0M558.78 321.84h0M559.12 321.32h0M559.45 320.79h0M559.79 320.26h0M560.12 319.72h0M560.46 319.19h0M560.79 318.65h0M561.12 318.11h0M561.45 317.57h0M561.78 317.03h0M562.11 316.49h0M562.44 315.94h0M562.77 315.40h0M563.09 314.85h0M563.42 314.30h0M563.74 313.75h0M564.06 313.20h0M564.38 312.64h0M564.70 312.09h0M565.02 311.53h0M565.34 310.97h0M565.66 310.41h0M565.97 309.85h0M566.29 309.29h0M566.60 308.72h0M566.91 308.16h0M567.22 307.59h0M567.54 307.02h0M567.84 306.45h0M568.15 305.88h0M568.46 305.31h0M568.77 304.74h0M569.07 304.17h0M569.38 303.59h0M569.68 303.02h0M569.99 302.44h0M570.29 301.86h0M570.59 301.28h0M570.89 300.71h0M571.19 300.13h0M571.49 299.54h0M571.79 298.96h0M572.08 298.38h0M572.38 297.80h0M572.67 297.21h0M572.97 296.63h0M573.26 296.04h0M573.55 295.46h0M573.84 294.87h0M574.13 294.28h0M574.42 293.69h0M574.71 293.10h0M575.00 292.51h0M575.29 291.92h0M575.57 291.33h0M575.86 290.74h0M576.14 290.15h0M576.43 289.56h0M576.71 288.96h0M576.99 288.37h0M577.27 287.78h0M577.55 287.18h0M577.83 286.59h0M578.11 285.99h0M578.39 285.40h0M578.67 284.80h0M578.94 284.21h0M579.22 283.61h0M579.50 283.01h0M579.77 282.42h0M580.04 281.82h0M580.32 281.22h0M580.59 280.62h0M580.86 280.03h0M581.13 279.43h0M581.40 278.83h0M581.67 278.23h0M581.94 277.63h0M583.74 273.56h0M585.36 269.84h0M586.98 266.05h0M588.60 262.21h0M590.22 258.31h0M591.84 254.35h0M593.46 250.34h0M595.08 246.28h0M596.70 242.17h0M598.32 238.01h0M599.94 233.81h0M601.56 229.56h0M603.18 225.27h0M604.80 220.93h0" stroke="#EDB120" stroke-width="3.50" stroke-linecap="round" fill="none"/>
</g>
<path d="M159.40 404.50v-2.3M159.40 24.80v2.3M166.95 404.50v-2.3M166.95 24.80v2.3M173.48 404.50v-2.3M173.48 24.80v2.3M179.24 404.50v-2.3M179.24 24.80v2.3M184.40 404.50v-2.3M184.40 24.80v2.3M218.32 404.50v-2.3M218.32 24.80v2.3M238.16 404.50v-2.3M238.16 24.80v2.3M252.23 404.50v-2.3M252.23 24.80v2.3M263.15 404.50v-2.3M263.15 24.80v2.3M272.07 404.50v-2.3M272.07 24.80v2.3M279.62 404.50v-2.3M279.62 24.80v2.3M286.15 404.50v-2.3M286.15 24.80v2.3M291.91 404.50v-2.3M291.91 24.80v2.3M297.07 404.50v-2.3M297.07 24.80v2.3M330.99 404.50v-2.3M330.99 24.80v2.3M350.83 404.50v-2.3M350.83 24.80v2.3M364.90 404.50v-2.3M364.90 24.80v2.3M375.82 404.50v-2.3M375.82 24.80v2.3M384.74 404.50v-2.3M384.74 24.80v2.3M392.29 404.50v-2.3M392.29 24.80v2.3M398.82 404.50v-2.3M398.82 24.80v2.3M404.58 404.50v-2.3M404.58 24.80v2.3M409.74 404.50v-2.3M409.74 24.80v2.3M443.66 404.50v-2.3M443.66 24.80v2.3M463.50 404.50v-2.3M463.50 24.80v2.3M477.57 404.50v-2.3M477.57 24.80v2.3M488.49 404.50v-2.3M488.49 24.80v2.3M497.41 404.50v-2.3M497.41 24.80v2.3M504.96 404.50v-2.3M504.96 24.80v2.3M511.49 404.50v-2.3M511.49 24.80v2.3M517.25 404.50v-2.3M517.25 24.80v2.3M522.41 404.50v-2.3M522.41 24.80v2.3M556.33 404.50v-2.3M556.33 24.80v2.3M576.17 404.50v-2.3M576.17 24.80v2.3M590.24 404.50v-2.3M590.24 24.80v2.3M601.16 404.50v-2.3M601.16 24.80v2.3M195.20 404.50v-4.6M195.20 24.80v4.6M331.30 404.50v-4.6M331.30 24.80v4.6M466.50 404.50v-4.6M466.50 24.80v4.6M602.40 404.50v-4.6M602.40 24.80v4.6M150.30 325.75h2.3M606.40 325.75h-2.3M150.30 272.78h2.3M606.40 272.78h-2.3M150.30 235.20h2.3M606.40 235.20h-2.3M150.30 206.05h2.3M606.40 206.05h-2.3M150.30 182.23h2.3M606.40 182.23h-2.3M150.30 162.09h2.3M606.40 162.09h-2.3M150.30 144.65h2.3M606.40 144.65h-2.3M150.30 129.26h2.3M606.40 129.26h-2.3M150.30 115.50h2.3M606.40 115.50h-2.3M150.30 64.70h4.6M606.40 64.70h-4.6M150.30 170.70h4.6M606.40 170.70h-4.6M150.30 276.70h4.6M606.40 276.70h-4.6M150.30 382.70h4.6M606.40 382.70h-4.6" stroke="#333333" stroke-width="1" fill="none"/>
<rect x="150.30" y="24.80" width="456.10" height="379.70" fill="none" stroke="#333333" stroke-width="1.1"/>
<g>
<path d="M156.51 821.48h0M163.17 821.48h0M169.41 821.48h0M175.28 821.49h0M180.81 821.50h0M186.05 821.50h0M191.02 821.51h0M195.75 821.52h0M200.27 821.53h0M204.58 821.55h0M208.71 821.56h0M212.68 821.58h0M216.49 821.59h0M220.15 821.61h0M223.69 821.64h0M227.10 821.66h0M230.40 821.69h0M233.59 821.71h0M236.67 821.74h0M239.67 821.78h0M242.57 821.81h0M245.39 821.85h0M248.14 821.90h0M250.80 821.94h0M253.40 821.99h0M255.93 822.04h0M258.40 822.10h0M260.80 822.16h0M263.15 822.22h0M265.44 822.29h0M267.68 822.36h0M269.87 822.44h0M272.01 822.52h0M274.11 822.61h0M276.16 822.70h0M278.17 822.79h0M280.14 822.89h0M282.07 823.00h0M283.97 823.11h0M285.82 823.23h0M287.65 823.35h0M289.44 823.48h0M291.19 823.61h0M292.92 823.75h0M294.62 823.90h0M296.28 824.05h0M297.92 824.21h0M299.54 824.37h0M301.12 824.54h0M302.68 824.72h0M304.22 824.91h0M305.73 825.10h0M307.22 825.30h0M308.69 825.50h0M310.14 825.72h0M311.56 825.94h0M312.97 826.16h0M314.35 826.40h0M315.72 826.64h0M317.06 826.89h0M318.39 827.14h0M319.70 827.41h0M320.99 827.68h0M322.27 827.96h0M323.53 828.24h0M324.77 828.53h0M326.00 828.83h0M327.21 829.14h0M328.41 829.45h0M329.60 829.78h0M330.76 830.11h0M331.92 830.44h0M333.06 830.78h0M334.19 831.13h0M335.31 831.49h0M336.41 831.85h0M337.50 832.22h0M338.58 832.60h0M339.65 832.98h0M340.70 833.37h0M341.75 833.76h0M342.78 834.16h0M343.81 834.57h0M344.82 834.98h0M345.82 835.39h0M346.81 835.82h0M347.79 836.24h0M348.76 836.67h0M349.73 837.11h0M350.68 837.55h0M351.62 838.00h0M352.56 838.45h0M353.48 838.90h0M354.40 839.35h0M355.31 839.81h0M356.21 840.28h0M357.10 840.74h0M357.99 841.21h0M358.86 841.68h0M359.73 842.15h0M360.59 842.63h0M361.45 843.10h0M362.29 843.58h0M363.13 844.06h0M363.96 844.54h0M364.79 845.02h0M365.60 845.50h0M366.42 845.99h0M367.22 846.47h0M368.02 846.95h0M368.81 847.43h0M369.59 847.91h0M370.37 848.39h0M371.14 848.87h0M371.91 849.35h0M372.67 849.83h0M373.43 850.30h0M374.18 850.78h0M374.92 851.25h0M375.66 851.72h0M376.39 852.19h0M377.11 852.66h0M377.84 853.12h0M378.55 853.58h0M379.26 854.04h0M379.97 854.49h0M380.67 854.94h0M381.36 855.39h0M382.05 855.83h0M382.74 856.28h0M383.42 856.71h0M384.10 857.15h0M384.77 857.58h0M385.44 858.00h0M386.10 858.43h0M386.76 858.84h0M387.41 859.26h0M388.06 859.67h0M388.71 860.07h0M389.35 860.47h0M389.98 860.87h0M390.62 861.26h0M391.25 861.65h0M391.87 862.03h0M392.49 862.41h0M393.11 862.78h0M393.72 863.15h0M394.33 863.51h0M394.93 863.87h0M395.54 864.22h0M396.13 864.57h0M396.73 864.92h0M397.32 865.26h0M397.91 865.59h0M398.49 865.92h0M399.07 866.25h0M399.65 866.57h0M400.22 866.88h0M400.79 867.19h0M401.36 867.50h0M401.92 867.80h0M402.48 868.10h0M403.04 868.39h0M403.59 868.67h0M404.14 868.96h0M404.69 869.23h0M405.23 869.51h0M405.78 869.78h0M406.31 870.04h0M406.85 870.30h0M407.38 870.56h0M407.91 870.81h0M408.44 871.05h0M408.96 871.30h0M409.49 871.53h0M410.00 871.77h0M410.52 872.00h0M411.03 872.22h0M411.54 872.45h0M412.05 872.66h0M413.06 873.09h0M414.06 873.50h0M415.04 873.89h0M416.02 874.27h0M416.99 874.63h0M417.95 874.98h0M418.90 875.32h0M419.84 875.64h0M420.77 875.96h0M421.69 876.26h0M422.61 876.54h0M423.51 876.82h0M424.41 877.09h0M425.30 877.34h0M426.18 877.59h0M427.05 877.82h0M427.92 878.05h0M428.77 878.26h0M429.62 878.47h0M430.47 878.67h0M431.30 878.86h0M432.13 879.04h0M432.95 879.21h0M433.77 879.38h0M434.58 879.54h0M435.38 879.69h0M436.17 879.84h0M436.96 879.98h0M437.74 880.11h0M438.52 880.24h0M439.29 880.36h0M440.05 880.48h0M440.81 880.59h0M441.56 880.69h0M442.31 880.79h0M443.05 880.89h0M443.79 880.98h0M444.52 881.06h0M445.24 881.15h0M445.96 881.22h0M446.67 881.30h0M447.38 881.37h0M448.09 881.43h0M448.79 881.49h0M449.48 881.55h0M450.17 881.60h0M450.85 881.66h0M451.53 881.70h0M452.21 881.75h0M452.88 881.79h0M453.54 881.83h0M454.20 881.86h0M454.86 881.90h0M455.51 881.93h0M456.16 881.95h0M456.80 881.98h0M457.44 882.00h0M458.08 882.02h0M458.71 882.04h0M459.33 882.05h0M459.96 882.07h0M460.58 882.08h0M461.19 882.09h0M461.80 882.09h0M462.41 882.10h0M463.01 882.11h0M463.61 882.11h0M464.21 882.11h0M464.80 882.11h0M465.39 882.11h0M465.98 882.10h0M466.56 882.10h0M467.14 882.08h0M467.71 882.07h0M468.29 882.05h0M468.85 882.03h0M469.42 882.01h0M469.98 881.98h0M470.54 881.95h0M471.10 881.91h0M471.65 881.83h0M472.20 881.75h0M472.74 881.67h0M473.56 881.55h0M474.37 881.43h0M475.17 881.30h0M475.96 881.18h0M476.75 881.05h0M477.53 880.92h0M478.31 880.79h0M479.07 880.66h0M479.84 880.53h0M480.60 880.40h0M481.35 880.27h0M482.09 880.14h0M482.83 880.01h0M483.57 879.88h0M484.30 879.74h0M485.02 879.61h0M485.74 879.48h0M486.45 879.34h0M487.16 879.20h0M487.86 879.07h0M488.56 878.93h0M489.25 878.79h0M489.94 878.64h0M490.62 878.50h0M491.30 878.36h0M491.98 878.21h0M492.65 878.06h0M493.31 877.91h0M493.97 877.76h0M494.63 877.61h0M495.28 877.45h0M495.93 877.30h0M496.57 877.14h0M497.21 876.97h0M497.84 876.81h0M498.47 876.64h0M499.10 876.48h0M499.72 876.30h0M500.34 876.13h0M500.95 875.96h0M501.56 875.78h0M502.17 875.60h0M502.77 875.41h0M503.37 875.23h0M503.97 875.04h0M504.56 874.84h0M505.15 874.65h0M505.74 874.45h0M506.32 874.25h0M506.90 874.05h0M507.47 873.84h0M508.04 873.63h0M508.61 873.42h0M509.18 873.21h0M509.74 872.99h0M510.30 872.77h0M510.85 872.55h0M511.40 872.32h0M511.95 872.09h0M512.50 871.85h0M513.04 871.62h0M513.58 871.38h0M514.12 871.14h0M514.65 870.89h0M515.18 870.64h0M515.71 870.39h0M516.24 870.13h0M516.76 869.88h0M517.28 869.61h0M517.80 869.35h0M518.31 869.08h0M518.82 868.81h0M519.33 868.53h0M519.84 868.26h0M520.34 867.97h0M520.84 867.69h0M521.34 867.40h0M521.84 867.11h0M522.33 866.82h0M522.82 866.52h0M523.31 866.22h0M523.80 865.91h0M524.28 865.60h0M524.77 865.29h0M525.24 864.98h0M525.72 864.66h0M526.20 864.34h0M526.67 864.01h0M527.14 863.69h0M527.61 863.36h0M528.07 863.02h0M528.53 862.68h0M529.00 862.34h0M529.45 862.00h0M529.91 861.65h0M530.37 861.30h0M530.82 860.95h0M531.27 860.59h0M531.72 860.23h0M532.16 859.87h0M532.61 859.50h0M533.05 859.13h0M533.49 858.76h0M533.93 858.38h0M534.37 858.00h0M534.80 857.62h0M535.23 857.23h0M535.66 856.84h0M536.09 856.45h0M536.52 856.06h0M536.94 855.66h0M537.37 855.26h0M537.79 854.85h0M538.21 854.44h0M538.63 854.03h0M539.04 853.62h0M539.46 853.20h0M539.87 852.78h0M540.28 852.36h0M540.69 851.94h0M541.10 851.51h0M541.50 851.08h0M541.91 850.64h0M542.31 850.21h0M542.71 849.77h0M543.11 849.33h0M543.51 848.88h0M543.90 848.43h0M544.30 847.98h0M544.69 847.53h0M545.08 847.07h0M545.47 846.62h0M545.86 846.16h0M546.24 845.69h0M546.63 845.23h0M547.01 844.76h0M547.39 844.29h0M547.77 843.81h0M548.15 843.33h0M548.53 842.86h0M548.91 842.37h0M549.28 841.89h0M549.65 841.41h0M550.03 840.92h0M550.40 840.43h0M550.77 839.93h0M551.13 839.44h0M551.50 838.94h0M551.86 838.44h0M552.23 837.94h0M552.59 837.44h0M552.95 836.93h0M553.31 836.42h0M553.67 835.91h0M554.03 835.40h0M554.38 834.88h0M554.74 834.37h0M555.09 833.85h0M555.44 833.33h0M555.79 832.81h0M556.14 832.28h0M556.49 831.76h0M556.83 831.23h0M557.18 830.70h0M557.52 830.17h0M557.87 829.63h0M558.21 829.10h0M558.55 828.56h0M558.89 828.02h0M559.23 827.48h0M559.57 826.94h0M559.90 826.40h0M560.24 825.85h0M560.57 825.31h0M560.90 824.76h0M561.23 824.21h0M561.56 823.66h0M561.89 823.11h0M562.22 822.55h0M562.55 822.00h0M562.88 821.44h0M563.20 820.88h0M563.52 820.32h0M563.85 819.76h0M564.17 819.20h0M564.49 818.64h0M564.81 818.07h0M565.13 817.51h0M565.44 816.94h0M565.76 816.37h0M566.08 815.80h0M566.39 815.23h0M566.70 814.66h0M567.02 814.09h0M567.33 813.52h0M567.64 812.94h0M567.95 812.37h0M568.26 811.79h0M568.56 811.22h0M568.87 810.64h0M569.18 810.06h0M569.48 809.48h0M569.78 808.90h0M570.09 808.32h0M570.39 807.74h0M570.69 807.15h0M570.99 806.57h0M571.29 805.99h0M571.59 805.40h0M571.88 804.82h0M572.18 804.23h0M572.48 803.64h0M572.77 803.06h0M573.06 802.47h0M573.36 801.88h0M573.65 801.29h0M573.94 800.70h0M574.23 800.11h0M574.52 799.52h0M574.81 798.93h0M575.10 798.33h0M575.38 797.74h0M575.67 797.15h0M575.95 796.55h0M576.24 795.96h0M576.52 795.37h0M576.80 794.77h0M577.09 794.18h0M577.37 793.58h0M577.65 792.99h0M577.93 792.39h0M578.21 791.79h0M578.48 791.20h0M578.76 790.60h0M579.04 790.00h0M579.31 789.41h0M579.59 788.81h0M579.86 788.21h0M580.13 787.61h0M580.41 787.02h0M580.68 786.42h0M580.95 785.82h0M581.22 785.22h0M581.49 784.62h0M581.76 784.02h0M582.12 783.21h0M583.74 779.55h0M585.36 775.83h0M586.98 772.05h0M588.60 768.22h0M590.22 764.32h0M591.84 760.38h0M593.46 756.38h0M595.08 752.33h0M596.70 748.23h0M598.32 744.09h0M599.94 739.90h0M601.56 735.66h0M603.18 731.38h0M604.80 727.06h0" stroke="#0072BD" stroke-width="3.50" stroke-linecap="round" fill="none"/>
<path d="M156.51 850.95h0M163.17 850.95h0M169.41 850.95h0M175.28 850.95h0M180.81 850.95h0M186.05 850.95h0M191.02 850.95h0M195.75 850.95h0M200.27 850.96h0M204.58 850.96h0M208.71 850.96h0M212.68 850.96h0M216.49 850.97h0M220.15 850.97h0M223.69 850.98h0M227.10 850.98h0M230.40 850.99h0M233.59 850.99h0M236.67 851.00h0M239.67 851.01h0M242.57 851.02h0M245.39 851.03h0M248.14 851.04h0M250.80 851.06h0M253.40 851.07h0M255.93 851.08h0M258.40 851.10h0M260.80 851.12h0M263.15 851.14h0M265.44 851.16h0M267.68 851.19h0M269.87 851.21h0M272.01 851.24h0M274.11 851.27h0M276.16 851.30h0M278.17 851.34h0M280.14 851.37h0M282.07 851.41h0M283.97 851.46h0M285.82 851.50h0M287.65 851.55h0M289.44 851.60h0M291.19 851.66h0M292.92 851.71h0M294.62 851.77h0M296.28 851.84h0M297.92 851.91h0M299.54 851.98h0M301.12 852.06h0M302.68 852.14h0M304.22 852.22h0M305.73 852.31h0M307.22 852.41h0M308.69 852.51h0M310.14 852.61h0M311.56 852.72h0M312.97 852.83h0M314.35 852.95h0M315.72 853.07h0M317.06 853.20h0M318.39 853.33h0M319.70 853.47h0M320.99 853.62h0M322.27 853.77h0M323.53 853.92h0M324.77 854.08h0M326.00 854.25h0M327.21 854.42h0M328.41 854.60h0M329.60 854.78h0M330.76 854.97h0M331.92 855.16h0M333.06 855.36h0M334.19 855.57h0M335.31 855.78h0M336.41 855.99h0M337.50 856.21h0M338.58 856.44h0M339.65 856.67h0M340.70 856.91h0M341.75 857.15h0M342.78 857.39h0M343.81 857.64h0M344.82 857.90h0M345.82 858.16h0M346.81 858.42h0M347.79 858.69h0M348.76 858.96h0M349.73 859.24h0M350.68 859.51h0M351.62 859.80h0M352.56 860.08h0M353.48 860.37h0M354.40 860.66h0M355.31 860.95h0M356.21 861.25h0M357.10 861.55h0M357.99 861.85h0M358.86 862.15h0M359.73 862.45h0M360.59 862.75h0M361.45 863.06h0M362.29 863.36h0M363.13 863.67h0M363.96 863.97h0M364.79 864.28h0M365.60 864.59h0M366.42 864.89h0M367.22 865.20h0M368.02 865.50h0M368.81 865.81h0M369.59 866.11h0M370.37 866.41h0M371.14 866.71h0M371.91 867.01h0M372.67 867.31h0M373.43 867.61h0M374.18 867.90h0M374.92 868.19h0M375.66 868.48h0M376.39 868.77h0M377.11 869.05h0M377.84 869.33h0M378.55 869.61h0M379.26 869.89h0M379.97 870.16h0M380.67 870.43h0M381.36 870.70h0M382.05 870.97h0M382.74 871.23h0M383.42 871.49h0M384.10 871.74h0M384.77 871.99h0M385.44 872.24h0M386.10 872.48h0M386.76 872.73h0M387.41 872.96h0M388.06 873.20h0M388.71 873.43h0M389.35 873.66h0M389.98 873.88h0M390.62 874.10h0M391.25 874.32h0M391.87 874.53h0M392.49 874.74h0M393.11 874.95h0M393.72 875.15h0M394.33 875.35h0M394.93 875.55h0M395.54 875.74h0M396.13 875.93h0M396.73 876.11h0M397.32 876.30h0M397.91 876.47h0M398.49 876.65h0M399.07 876.82h0M399.65 876.99h0M400.22 877.16h0M400.79 877.32h0M401.36 877.48h0M401.92 877.64h0M402.48 877.79h0M403.04 877.94h0M403.59 878.09h0M404.14 878.24h0M404.69 878.38h0M405.23 878.52h0M405.78 878.65h0M406.31 878.79h0M406.85 878.92h0M407.91 879.17h0M408.96 879.42h0M410.00 879.65h0M411.03 879.88h0M412.05 880.09h0M413.06 880.30h0M414.06 880.49h0M415.04 880.68h0M416.02 880.86h0M416.99 881.04h0M417.95 881.20h0M418.90 881.36h0M419.84 881.51h0M420.77 881.66h0M421.69 881.80h0M422.61 881.93h0M423.51 882.06h0M424.41 882.18h0M425.30 882.29h0M426.18 882.40h0M427.05 882.51h0M427.92 882.61h0M428.77 882.70h0M429.62 882.79h0M430.47 882.88h0M431.30 882.96h0M432.13 883.04h0M432.95 883.11h0M433.77 883.19h0M434.58 883.25h0M435.38 883.32h0M436.17 883.38h0M436.96 883.43h0M437.74 883.49h0M438.52 883.54h0M439.29 883.58h0M440.05 883.63h0M440.81 883.67h0M441.56 883.71h0M442.31 883.75h0M443.05 883.78h0M443.79 883.81h0M444.52 883.84h0M445.24 883.87h0M445.96 883.89h0M446.67 883.91h0M447.38 883.93h0M448.09 883.90h0M448.79 883.87h0M449.48 883.84h0M450.17 883.81h0M450.85 883.77h0M451.53 883.74h0M452.21 883.70h0M452.88 883.67h0M453.54 883.63h0M454.20 883.59h0M454.86 883.55h0M455.51 883.51h0M456.16 883.46h0M456.80 883.42h0M457.44 883.37h0M458.08 883.33h0M458.71 883.28h0M459.33 883.23h0M459.96 883.18h0M460.58 883.12h0M461.19 883.07h0M461.80 883.01h0M462.41 882.95h0M463.01 882.89h0M463.61 882.83h0M464.21 882.77h0M464.80 882.71h0M465.39 882.64h0M465.98 882.57h0M466.56 882.50h0M467.14 882.43h0M467.71 882.36h0M468.29 882.29h0M468.85 882.22h0M469.42 882.14h0M469.98 882.07h0M470.54 881.99h0M471.10 881.91h0M471.65 881.83h0M472.20 881.75h0M472.74 881.67h0M473.56 881.55h0M474.37 881.43h0M475.17 881.30h0M475.96 881.18h0M476.75 881.05h0M477.53 880.92h0M478.31 880.79h0M479.07 880.66h0M479.84 880.53h0M480.60 880.40h0M481.35 880.27h0M482.09 880.14h0M482.83 880.01h0M483.57 879.88h0M484.30 879.74h0M485.02 879.61h0M485.74 879.48h0M486.45 879.34h0M487.16 879.20h0M487.86 879.07h0M488.56 878.93h0M489.25 878.79h0M489.94 878.64h0M490.62 878.50h0M491.30 878.36h0M491.98 878.21h0M492.65 878.06h0M493.31 877.91h0M493.97 877.76h0M494.63 877.61h0M495.28 877.45h0M495.93 877.30h0M496.57 877.14h0M497.21 876.97h0M497.84 876.81h0M498.47 876.64h0M499.10 876.48h0M499.72 876.30h0M500.34 876.13h0M500.95 875.96h0M501.56 875.78h0M502.17 875.60h0M502.77 875.41h0M503.37 875.23h0M503.97 875.04h0M504.56 874.84h0M505.15 874.65h0M505.74 874.45h0M506.32 874.25h0M506.90 874.05h0M507.47 873.84h0M508.04 873.63h0M508.61 873.42h0M509.18 873.21h0M509.74 872.99h0M510.30 872.77h0M510.85 872.55h0M511.40 872.32h0M511.95 872.09h0M512.50 871.85h0M513.04 871.62h0M513.58 871.38h0M514.12 871.14h0M514.65 870.89h0M515.18 870.64h0M515.71 870.39h0M516.24 870.13h0M516.76 869.88h0M517.28 869.61h0M517.80 869.35h0M518.31 869.08h0M518.82 868.81h0M519.33 868.53h0M519.84 868.26h0M520.34 867.97h0M520.84 867.69h0M521.34 867.40h0M521.84 867.11h0M522.33 866.82h0M522.82 866.52h0M523.31 866.22h0M523.80 865.91h0M524.28 865.60h0M524.77 865.29h0M525.24 864.98h0M525.72 864.66h0M526.20 864.34h0M526.67 864.01h0M527.14 863.69h0M527.61 863.36h0M528.07 863.02h0M528.53 862.68h0M529.00 862.34h0M529.45 862.00h0M529.91 861.65h0M530.37 861.30h0M530.82 860.95h0M531.27 860.59h0M531.72 860.23h0M532.16 859.87h0M532.61 859.50h0M533.05 859.13h0M533.49 858.76h0M533.93 858.38h0M534.37 858.00h0M534.80 857.62h0M535.23 857.23h0M535.66 856.84h0M536.09 856.45h0M536.52 856.06h0M536.94 855.66h0M537.37 855.26h0M537.79 854.85h0M538.21 854.44h0M538.63 854.03h0M539.04 853.62h0M539.46 853.20h0M539.87 852.78h0M540.28 852.36h0M540.69 851.94h0M541.10 851.51h0M541.50 851.08h0M541.91 850.64h0M542.31 850.21h0M542.71 849.77h0M543.11 849.33h0M543.51 848.88h0M543.90 848.43h0M544.30 847.98h0M544.69 847.53h0M545.08 847.07h0M545.47 846.62h0M545.86 846.16h0M546.24 845.69h0M546.63 845.23h0M547.01 844.76h0M547.39 844.29h0M547.77 843.81h0M548.15 843.33h0M548.53 842.86h0M548.91 842.37h0M549.28 841.89h0M549.65 841.41h0M550.03 840.92h0M550.40 840.43h0M550.77 839.93h0M551.13 839.44h0M551.50 838.94h0M551.86 838.44h0M552.23 837.94h0M552.59 837.44h0M552.95 836.93h0M553.31 836.42h0M553.67 835.91h0M554.03 835.40h0M554.38 834.88h0M554.74 834.37h0M555.09 833.85h0M555.44 833.33h0M555.79 832.81h0M556.14 832.28h0M556.49 831.76h0M556.83 831.23h0M557.18 830.70h0M557.52 830.17h0M557.87 829.63h0M558.21 829.10h0M558.55 828.56h0M558.89 828.02h0M559.23 827.48h0M559.57 826.94h0M559.90 826.40h0M560.24 825.85h0M560.57 825.31h0M560.90 824.76h0M561.23 824.21h0M561.56 823.66h0M561.89 823.11h0M562.22 822.55h0M562.55 822.00h0M562.88 821.44h0M563.20 820.88h0M563.52 820.32h0M563.85 819.76h0M564.17 819.20h0M564.49 818.64h0M564.81 818.07h0M565.13 817.51h0M565.44 816.94h0M565.76 816.37h0M566.08 815.80h0M566.39 815.23h0M566.70 814.66h0M567.02 814.09h0M567.33 813.52h0M567.64 812.94h0M567.95 812.37h0M568.26 811.79h0M568.56 811.22h0M568.87 810.64h0M569.18 810.06h0M569.48 809.48h0M569.78 808.90h0M570.09 808.32h0M570.39 807.74h0M570.69 807.15h0M570.99 806.57h0M571.29 805.99h0M571.59 805.40h0M571.88 804.82h0M572.18 804.23h0M572.48 803.64h0M572.77 803.06h0M573.06 802.47h0M573.36 801.88h0M573.65 801.29h0M573.94 800.70h0M574.23 800.11h0M574.52 799.52h0M574.81 798.93h0M575.10 798.33h0M575.38 797.74h0M575.67 797.15h0M575.95 796.55h0M576.24 795.96h0M576.52 795.37h0M576.80 794.77h0M577.09 794.18h0M577.37 793.58h0M577.65 792.99h0M577.93 792.39h0M578.21 791.79h0M578.48 791.20h0M578.76 790.60h0M579.04 790.00h0M579.31 789.41h0M579.59 788.81h0M579.86 788.21h0M580.13 787.61h0M580.41 787.02h0M580.68 786.42h0M580.95 785.82h0M581.22 785.22h0M581.49 784.62h0M581.76 784.02h0M582.12 783.21h0M583.74 779.55h0M585.36 775.83h0M586.98 772.05h0M588.60 768.22h0M590.22 764.32h0M591.84 760.38h0M593.46 756.38h0M595.08 752.33h0M596.70 748.23h0M598.32 744.09h0M599.94 739.90h0M601.56 735.66h0M603.18 731.38h0M604.80 727.06h0" stroke="#D95319" stroke-width="3.50" stroke-linecap="round" fill="none"/>
<path d="M156.51 884.82h0M163.17 884.82h0M169.41 884.82h0M175.28 884.82h0M180.81 884.82h0M186.05 884.82h0M191.02 884.82h0M195.75 884.82h0M200.27 884.82h0M204.58 884.82h0M208.71 884.82h0M212.68 884.82h0M216.49 884.82h0M220.15 884.82h0M223.69 884.82h0M227.10 884.82h0M230.40 884.82h0M233.59 884.82h0M236.67 884.82h0M239.67 884.82h0M242.57 884.82h0M245.39 884.82h0M248.14 884.82h0M250.80 884.82h0M253.40 884.82h0M255.93 884.82h0M258.40 884.82h0M260.80 884.82h0M263.15 884.82h0M265.44 884.82h0M267.68 884.82h0M269.87 884.82h0M272.01 884.82h0M274.11 884.82h0M276.16 884.82h0M278.17 884.82h0M280.14 884.82h0M282.07 884.82h0M283.97 884.82h0M285.82 884.82h0M287.65 884.82h0M289.44 884.82h0M291.19 884.82h0M292.92 884.82h0M294.62 884.82h0M296.28 884.82h0M297.92 884.82h0M299.54 884.82h0M301.12 884.82h0M302.68 884.82h0M304.22 884.82h0M305.73 884.82h0M307.22 884.82h0M308.69 884.82h0M310.14 884.82h0M311.56 884.82h0M312.97 884.82h0M314.35 884.82h0M315.72 884.82h0M317.06 884.82h0M318.39 884.82h0M319.70 884.82h0M320.99 884.82h0M322.27 884.82h0M323.53 884.82h0M324.77 884.82h0M326.00 884.82h0M327.21 884.82h0M328.41 884.82h0M329.60 884.82h0M330.76 884.82h0M331.92 884.82h0M333.06 884.82h0M334.19 884.82h0M335.31 884.82h0M336.41 884.82h0M337.50 884.81h0M338.58 884.81h0M339.65 884.81h0M340.70 884.81h0M341.75 884.81h0M342.78 884.81h0M343.81 884.81h0M344.82 884.81h0M345.82 884.81h0M346.81 884.81h0M347.79 884.81h0M348.76 884.81h0M349.73 884.81h0M350.68 884.81h0M351.62 884.81h0M352.56 884.81h0M353.48 884.81h0M354.40 884.81h0M355.31 884.80h0M356.21 884.80h0M357.10 884.80h0M357.99 884.80h0M358.86 884.80h0M359.73 884.80h0M360.59 884.80h0M361.45 884.80h0M362.29 884.80h0M363.13 884.80h0M363.96 884.80h0M364.79 884.80h0M365.60 884.79h0M366.42 884.79h0M367.22 884.79h0M368.02 884.79h0M368.81 884.79h0M369.59 884.79h0M370.37 884.79h0M371.14 884.79h0M371.91 884.79h0M372.67 884.78h0M373.43 884.78h0M374.18 884.78h0M374.92 884.78h0M375.66 884.78h0M376.39 884.78h0M377.11 884.78h0M377.84 884.77h0M378.55 884.77h0M379.26 884.77h0M379.97 884.77h0M380.67 884.77h0M381.36 884.77h0M382.05 884.77h0M382.74 884.76h0M383.42 884.76h0M384.10 884.76h0M384.77 884.76h0M385.44 884.76h0M386.10 884.76h0M386.76 884.75h0M387.41 884.75h0M388.06 884.75h0M388.71 884.75h0M389.35 884.75h0M389.98 884.74h0M390.62 884.74h0M391.25 884.74h0M391.87 884.74h0M392.49 884.73h0M393.11 884.73h0M393.72 884.73h0M394.33 884.73h0M394.93 884.72h0M395.54 884.72h0M396.13 884.72h0M396.73 884.72h0M397.32 884.71h0M397.91 884.71h0M398.49 884.71h0M399.07 884.71h0M399.65 884.70h0M400.22 884.70h0M400.79 884.70h0M401.36 884.70h0M401.92 884.69h0M402.48 884.69h0M403.04 884.69h0M403.59 884.68h0M404.14 884.68h0M405.23 884.67h0M406.31 884.67h0M407.38 884.66h0M408.44 884.65h0M409.49 884.64h0M410.52 884.64h0M411.54 884.63h0M412.56 884.62h0M413.56 884.61h0M414.55 884.60h0M415.53 884.59h0M416.51 884.58h0M417.47 884.57h0M418.42 884.56h0M419.37 884.55h0M420.31 884.54h0M421.23 884.53h0M422.15 884.52h0M423.06 884.51h0M423.96 884.50h0M424.85 884.48h0M425.74 884.47h0M426.62 884.46h0M427.48 884.45h0M428.35 884.43h0M429.20 884.42h0M430.05 884.40h0M430.89 884.39h0M431.72 884.37h0M432.54 884.36h0M433.36 884.34h0M434.17 884.32h0M434.98 884.30h0M435.78 884.29h0M436.57 884.27h0M437.35 884.25h0M438.13 884.23h0M438.91 884.21h0M439.67 884.19h0M440.43 884.17h0M441.19 884.15h0M441.94 884.12h0M442.68 884.10h0M443.42 884.08h0M444.15 884.05h0M444.88 884.02h0M445.60 884.00h0M446.32 883.97h0M447.03 883.94h0M447.74 883.91h0M448.44 883.88h0M449.13 883.85h0M449.82 883.82h0M450.51 883.79h0M451.19 883.76h0M451.87 883.72h0M452.54 883.68h0M453.21 883.65h0M453.87 883.61h0M454.53 883.57h0M455.18 883.53h0M455.83 883.49h0M456.48 883.44h0M457.12 883.40h0M457.76 883.35h0M458.39 883.30h0M459.02 883.25h0M459.65 883.20h0M460.27 883.15h0M460.88 883.09h0M461.50 883.04h0M462.11 882.98h0M462.71 882.92h0M463.31 882.86h0M463.91 882.80h0M464.51 882.74h0M465.10 882.67h0M465.68 882.61h0M466.27 882.54h0M466.85 882.47h0M467.43 882.40h0M468.00 882.33h0M468.57 882.25h0M469.14 882.18h0M469.70 882.10h0M470.26 882.03h0M470.82 881.95h0M471.37 881.87h0M471.92 881.79h0M472.47 881.71h0M473.02 881.63h0M473.83 881.51h0M474.63 881.38h0M475.43 881.26h0M476.22 881.13h0M477.01 881.01h0M477.79 880.88h0M478.56 880.75h0M479.33 880.62h0M480.09 880.49h0M480.85 880.36h0M481.60 880.23h0M482.34 880.10h0M483.08 879.97h0M483.81 879.83h0M484.54 879.70h0M485.26 879.57h0M485.98 879.43h0M486.69 879.29h0M487.39 879.16h0M488.10 879.02h0M488.79 878.88h0M489.48 878.74h0M490.17 878.60h0M490.85 878.45h0M491.53 878.31h0M492.20 878.16h0M492.87 878.01h0M493.53 877.86h0M494.19 877.71h0M494.84 877.56h0M495.49 877.40h0M496.14 877.24h0M496.78 877.08h0M497.42 876.92h0M498.05 876.76h0M498.68 876.59h0M499.31 876.42h0M499.93 876.25h0M500.54 876.07h0M501.16 875.90h0M501.77 875.72h0M502.37 875.53h0M502.97 875.35h0M503.57 875.16h0M504.17 874.97h0M504.76 874.78h0M505.35 874.58h0M505.93 874.39h0M506.51 874.19h0M507.09 873.98h0M507.66 873.77h0M508.23 873.56h0M508.80 873.35h0M509.36 873.14h0M509.92 872.92h0M510.48 872.69h0M511.04 872.47h0M511.59 872.24h0M512.14 872.01h0M512.68 871.78h0M513.22 871.54h0M513.76 871.30h0M514.30 871.05h0M514.83 870.81h0M515.36 870.56h0M515.89 870.30h0M516.41 870.05h0M516.93 869.79h0M517.45 869.53h0M517.97 869.26h0M518.48 868.99h0M518.99 868.72h0M519.50 868.44h0M520.01 868.16h0M520.51 867.88h0M521.01 867.59h0M521.51 867.30h0M522.00 867.01h0M522.50 866.72h0M522.99 866.42h0M523.48 866.11h0M523.96 865.81h0M524.44 865.50h0M524.93 865.19h0M525.40 864.87h0M525.88 864.55h0M526.35 864.23h0M526.82 863.91h0M527.29 863.58h0M527.76 863.24h0M528.23 862.91h0M528.69 862.57h0M529.15 862.23h0M529.61 861.88h0M530.06 861.54h0M530.52 861.18h0M530.97 860.83h0M531.42 860.47h0M531.87 860.11h0M532.31 859.74h0M532.76 859.38h0M533.20 859.01h0M533.64 858.63h0M534.08 858.25h0M534.51 857.87h0M534.94 857.49h0M535.38 857.10h0M535.81 856.71h0M536.24 856.32h0M536.66 855.92h0M537.09 855.52h0M537.51 855.12h0M537.93 854.72h0M538.35 854.31h0M538.77 853.90h0M539.18 853.48h0M539.59 853.06h0M540.01 852.64h0M540.42 852.22h0M540.83 851.80h0M541.23 851.37h0M541.64 850.93h0M542.04 850.50h0M542.44 850.06h0M542.84 849.62h0M543.24 849.18h0M543.64 848.73h0M544.03 848.28h0M544.43 847.83h0M544.82 847.38h0M545.21 846.92h0M545.60 846.46h0M545.99 846.00h0M546.37 845.54h0M546.76 845.07h0M547.14 844.60h0M547.52 844.13h0M547.90 843.65h0M548.28 843.18h0M548.66 842.70h0M549.03 842.21h0M549.41 841.73h0M549.78 841.24h0M550.15 840.75h0M550.52 840.26h0M550.89 839.77h0M551.26 839.27h0M551.62 838.77h0M551.99 838.27h0M552.35 837.77h0M552.71 837.27h0M553.07 836.76h0M553.43 836.25h0M553.79 835.74h0M554.14 835.23h0M554.50 834.71h0M554.85 834.19h0M555.21 833.67h0M555.56 833.15h0M555.91 832.63h0M556.26 832.11h0M556.60 831.58h0M556.95 831.05h0M557.30 830.52h0M557.64 829.99h0M557.98 829.45h0M558.32 828.92h0M558.66 828.38h0M559.00 827.84h0M559.34 827.30h0M559.68 826.76h0M560.01 826.22h0M560.35 825.67h0M560.68 825.12h0M561.01 824.57h0M561.34 824.03h0M561.67 823.47h0M562.00 822.92h0M562.33 822.37h0M562.66 821.81h0M562.98 821.25h0M563.31 820.70h0M563.63 820.14h0M563.95 819.58h0M564.28 819.01h0M564.60 818.45h0M564.91 817.88h0M565.23 817.32h0M565.55 816.75h0M565.87 816.18h0M566.18 815.62h0M566.50 815.04h0M566.81 814.47h0M567.12 813.90h0M567.43 813.33h0M567.74 812.75h0M568.05 812.18h0M568.36 811.60h0M568.67 811.02h0M568.97 810.45h0M569.28 809.87h0M569.58 809.29h0M569.89 808.71h0M570.19 808.13h0M570.49 807.54h0M570.79 806.96h0M571.09 806.38h0M571.39 805.79h0M571.69 805.21h0M571.98 804.62h0M572.28 804.03h0M572.57 803.45h0M572.87 802.86h0M573.16 802.27h0M573.45 801.68h0M573.75 801.09h0M574.04 800.50h0M574.33 799.91h0M574.62 799.32h0M574.90 798.73h0M575.19 798.14h0M575.48 797.54h0M575.76 796.95h0M576.05 796.36h0M576.33 795.76h0M576.62 795.17h0M576.90 794.57h0M577.18 793.98h0M577.46 793.38h0M577.74 792.79h0M578.02 792.19h0M578.30 791.60h0M578.58 791.00h0M578.85 790.40h0M579.13 789.81h0M579.40 789.21h0M579.68 788.61h0M579.95 788.01h0M580.22 787.42h0M580.50 786.82h0M580.77 786.22h0M581.04 785.62h0M581.31 785.02h0M581.58 784.42h0M581.85 783.82h0M582.12 783.21h0M583.74 779.55h0M585.36 775.83h0M586.98 772.05h0M588.60 768.22h0M590.22 764.32h0M591.84 760.38h0M593.46 756.38h0M595.08 752.33h0M596.70 748.23h0M598.32 744.09h0M599.94 739.90h0M601.56 735.66h0M603.18 731.38h0M604.80 727.06h0" stroke="#EDB120" stroke-width="3.50" stroke-linecap="round" fill="none"/>
</g>
<path d="M159.40 910.70v-2.3M159.40 531.00v2.3M166.95 910.70v-2.3M166.95 531.00v2.3M173.48 910.70v-2.3M173.48 531.00v2.3M179.24 910.70v-2.3M179.24 531.00v2.3M184.40 910.70v-2.3M184.40 531.00v2.3M218.32 910.70v-2.3M218.32 531.00v2.3M238.16 910.70v-2.3M238.16 531.00v2.3M252.23 910.70v-2.3M252.23 531.00v2.3M263.15 910.70v-2.3M263.15 531.00v2.3M272.07 910.70v-2.3M272.07 531.00v2.3M279.62 910.70v-2.3M279.62 531.00v2.3M286.15 910.70v-2.3M286.15 531.00v2.3M291.91 910.70v-2.3M291.91 531.00v2.3M297.07 910.70v-2.3M297.07 531.00v2.3M330.99 910.70v-2.3M330.99 531.00v2.3M350.83 910.70v-2.3M350.83 531.00v2.3M364.90 910.70v-2.3M364.90 531.00v2.3M375.82 910.70v-2.3M375.82 531.00v2.3M384.74 910.70v-2.3M384.74 531.00v2.3M392.29 910.70v-2.3M392.29 531.00v2.3M398.82 910.70v-2.3M398.82 531.00v2.3M404.58 910.70v-2.3M404.58 531.00v2.3M409.74 910.70v-2.3M409.74 531.00v2.3M443.66 910.70v-2.3M443.66 531.00v2.3M463.50 910.70v-2.3M463.50 531.00v2.3M477.57 910.70v-2.3M477.57 531.00v2.3M488.49 910.70v-2.3M488.49 531.00v2.3M497.41 910.70v-2.3M497.41 531.00v2.3M504.96 910.70v-2.3M504.96 531.00v2.3M511.49 910.70v-2.3M511.49 531.00v2.3M517.25 910.70v-2.3M517.25 531.00v2.3M522.41 910.70v-2.3M522.41 531.00v2.3M556.33 910.70v-2.3M556.33 531.00v2.3M576.17 910.70v-2.3M576.17 531.00v2.3M590.24 910.70v-2.3M590.24 531.00v2.3M601.16 910.70v-2.3M601.16 531.00v2.3M195.20 910.70v-4.6M195.20 531.00v4.6M331.30 910.70v-4.6M331.30 531.00v4.6M466.50 910.70v-4.6M466.50 531.00v4.6M602.40 910.70v-4.6M602.40 531.00v4.6M150.30 831.95h2.3M606.40 831.95h-2.3M150.30 778.98h2.3M606.40 778.98h-2.3M150.30 741.40h2.3M606.40 741.40h-2.3M150.30 712.25h2.3M606.40 712.25h-2.3M150.30 688.43h2.3M606.40 688.43h-2.3M150.30 668.29h2.3M606.40 668.29h-2.3M150.30 650.85h2.3M606.40 650.85h-2.3M150.30 635.46h2.3M606.40 635.46h-2.3M150.30 621.70h2.3M606.40 621.70h-2.3M150.30 570.90h4.6M606.40 570.90h-4.6M150.30 676.90h4.6M606.40 676.90h-4.6M150.30 782.90h4.6M606.40 782.90h-4.6M150.30 888.90h4.6M606.40 888.90h-4.6" stroke="#333333" stroke-width="1" fill="none"/>
<rect x="150.30" y="531.00" width="456.10" height="379.70" fill="none" stroke="#333333" stroke-width="1.1"/>
<g>
<path d="M156.51 1349.40h0M163.17 1349.40h0M169.41 1349.41h0M175.28 1349.41h0M180.81 1349.42h0M186.05 1349.43h0M191.02 1349.44h0M195.75 1349.45h0M200.27 1349.46h0M204.58 1349.47h0M208.71 1349.49h0M212.68 1349.50h0M216.49 1349.52h0M220.15 1349.54h0M223.69 1349.56h0M227.10 1349.58h0M230.40 1349.60h0M233.59 1349.63h0M236.67 1349.66h0M239.67 1349.69h0M242.57 1349.72h0M245.39 1349.76h0M248.14 1349.80h0M250.80 1349.84h0M253.40 1349.88h0M255.93 1349.92h0M258.40 1349.97h0M260.80 1350.02h0M263.15 1350.08h0M265.44 1350.14h0M267.68 1350.20h0M269.87 1350.26h0M272.01 1350.33h0M274.11 1350.40h0M276.16 1350.48h0M278.17 1350.56h0M280.14 1350.64h0M282.07 1350.73h0M283.97 1350.82h0M285.82 1350.91h0M287.65 1351.01h0M289.44 1351.11h0M291.19 1351.22h0M292.92 1351.33h0M294.62 1351.45h0M296.28 1351.57h0M297.92 1351.69h0M299.54 1351.82h0M301.12 1351.96h0M302.68 1352.10h0M304.22 1352.24h0M305.73 1352.39h0M307.22 1352.54h0M308.69 1352.70h0M310.14 1352.86h0M311.56 1353.03h0M312.97 1353.21h0M314.35 1353.39h0M315.72 1353.57h0M317.06 1353.76h0M318.39 1353.95h0M319.70 1354.15h0M320.99 1354.36h0M322.27 1354.57h0M323.53 1354.78h0M324.77 1355.00h0M326.00 1355.22h0M327.21 1355.45h0M328.41 1355.69h0M329.60 1355.93h0M330.76 1356.17h0M331.92 1356.42h0M333.06 1356.68h0M334.19 1356.93h0M335.31 1357.20h0M336.41 1357.47h0M337.50 1357.74h0M338.58 1358.02h0M339.65 1358.30h0M340.70 1358.58h0M341.75 1358.87h0M342.78 1359.17h0M343.81 1359.47h0M344.82 1359.77h0M345.82 1360.07h0M346.81 1360.38h0M347.79 1360.70h0M348.76 1361.01h0M349.73 1361.33h0M350.68 1361.65h0M351.62 1361.98h0M352.56 1362.31h0M353.48 1362.64h0M354.40 1362.97h0M355.31 1363.31h0M356.21 1363.64h0M357.10 1363.98h0M357.99 1364.32h0M358.86 1364.67h0M359.73 1365.01h0M360.59 1365.36h0M361.45 1365.70h0M362.29 1366.05h0M363.13 1366.40h0M363.96 1366.75h0M364.79 1367.10h0M365.60 1367.45h0M366.42 1367.80h0M367.22 1368.15h0M368.02 1368.50h0M368.81 1368.84h0M369.59 1369.19h0M370.37 1369.54h0M371.14 1369.89h0M371.91 1370.23h0M372.67 1370.58h0M373.43 1370.92h0M374.18 1371.26h0M374.92 1371.60h0M375.66 1371.94h0M376.39 1372.27h0M377.11 1372.60h0M377.84 1372.93h0M378.55 1373.26h0M379.26 1373.59h0M379.97 1373.91h0M380.67 1374.23h0M381.36 1374.55h0M382.05 1374.86h0M382.74 1375.17h0M383.42 1375.48h0M384.10 1375.79h0M384.77 1376.09h0M385.44 1376.39h0M386.10 1376.68h0M386.76 1376.97h0M387.41 1377.26h0M388.06 1377.54h0M388.71 1377.82h0M389.35 1378.09h0M389.98 1378.36h0M390.62 1378.63h0M391.25 1378.90h0M391.87 1379.15h0M392.49 1379.41h0M393.11 1379.66h0M393.72 1379.91h0M394.33 1380.15h0M394.93 1380.39h0M395.54 1380.62h0M396.13 1380.85h0M396.73 1381.08h0M397.32 1381.30h0M397.91 1381.52h0M398.49 1381.73h0M399.07 1381.94h0M399.65 1382.14h0M400.22 1382.34h0M400.79 1382.54h0M401.36 1382.73h0M401.92 1382.92h0M402.48 1383.11h0M403.04 1383.29h0M403.59 1383.46h0M404.14 1383.64h0M404.69 1383.81h0M405.23 1383.97h0M405.78 1384.13h0M406.31 1384.29h0M406.85 1384.45h0M407.38 1384.60h0M408.44 1384.89h0M409.49 1385.16h0M410.52 1385.43h0M411.54 1385.68h0M412.56 1385.91h0M413.56 1386.14h0M414.55 1386.35h0M415.53 1386.56h0M416.51 1386.75h0M417.47 1386.93h0M418.42 1387.10h0M419.37 1387.26h0M420.31 1387.41h0M421.23 1387.56h0M422.15 1387.69h0M423.06 1387.82h0M423.96 1387.94h0M424.85 1388.05h0M425.74 1388.16h0M426.62 1388.25h0M427.48 1388.35h0M428.35 1388.43h0M429.20 1388.51h0M430.05 1388.59h0M430.89 1388.66h0M431.72 1388.72h0M432.54 1388.78h0M433.36 1388.84h0M434.17 1388.89h0M434.98 1388.94h0M435.78 1388.98h0M436.57 1389.02h0M437.35 1389.06h0M438.13 1389.09h0M438.91 1389.12h0M439.67 1389.14h0M440.43 1389.17h0M441.19 1389.19h0M441.94 1389.21h0M442.68 1389.22h0M443.42 1389.23h0M444.15 1389.24h0M444.88 1389.25h0M445.60 1389.26h0M446.32 1389.26h0M447.03 1389.27h0M447.74 1389.27h0M448.44 1389.26h0M449.13 1389.26h0M449.82 1389.26h0M450.51 1389.25h0M451.19 1389.24h0M451.87 1389.23h0M452.54 1389.22h0M453.21 1389.21h0M453.87 1389.19h0M454.53 1389.18h0M455.18 1389.16h0M455.83 1389.14h0M456.48 1389.12h0M457.12 1389.10h0M457.76 1389.08h0M458.39 1389.06h0M459.02 1389.04h0M459.65 1389.02h0M460.27 1389.00h0M460.88 1388.97h0M461.50 1388.94h0M462.11 1388.92h0M462.71 1388.89h0M463.31 1388.85h0M463.91 1388.82h0M464.51 1388.79h0M465.10 1388.75h0M465.68 1388.71h0M466.27 1388.67h0M466.85 1388.63h0M467.43 1388.58h0M468.00 1388.53h0M468.57 1388.45h0M469.14 1388.38h0M469.70 1388.30h0M470.26 1388.23h0M470.82 1388.15h0M471.37 1388.07h0M471.92 1387.99h0M472.47 1387.91h0M473.02 1387.83h0M473.83 1387.71h0M474.63 1387.58h0M475.43 1387.46h0M476.22 1387.33h0M477.01 1387.21h0M477.79 1387.08h0M478.56 1386.95h0M479.33 1386.82h0M480.09 1386.69h0M480.85 1386.56h0M481.60 1386.43h0M482.34 1386.30h0M483.08 1386.17h0M483.81 1386.03h0M484.54 1385.90h0M485.26 1385.77h0M485.98 1385.63h0M486.69 1385.49h0M487.39 1385.36h0M488.10 1385.22h0M488.79 1385.08h0M489.48 1384.94h0M490.17 1384.80h0M490.85 1384.65h0M491.53 1384.51h0M492.20 1384.36h0M492.87 1384.21h0M493.53 1384.06h0M494.19 1383.91h0M494.84 1383.76h0M495.49 1383.60h0M496.14 1383.44h0M496.78 1383.28h0M497.42 1383.12h0M498.05 1382.96h0M498.68 1382.79h0M499.31 1382.62h0M499.93 1382.45h0M500.54 1382.27h0M501.16 1382.10h0M501.77 1381.92h0M502.37 1381.73h0M502.97 1381.55h0M503.57 1381.36h0M504.17 1381.17h0M504.76 1380.98h0M505.35 1380.78h0M505.93 1380.59h0M506.51 1380.39h0M507.09 1380.18h0M507.66 1379.97h0M508.23 1379.76h0M508.80 1379.55h0M509.36 1379.34h0M509.92 1379.12h0M510.48 1378.89h0M511.04 1378.67h0M511.59 1378.44h0M512.14 1378.21h0M512.68 1377.98h0M513.22 1377.74h0M513.76 1377.50h0M514.30 1377.25h0M514.83 1377.01h0M515.36 1376.76h0M515.89 1376.50h0M516.41 1376.25h0M516.93 1375.99h0M517.45 1375.73h0M517.97 1375.46h0M518.48 1375.19h0M518.99 1374.92h0M519.50 1374.64h0M520.01 1374.36h0M520.51 1374.08h0M521.01 1373.79h0M521.51 1373.50h0M522.00 1373.21h0M522.50 1372.92h0M522.99 1372.62h0M523.48 1372.31h0M523.96 1372.01h0M524.44 1371.70h0M524.93 1371.39h0M525.40 1371.07h0M525.88 1370.75h0M526.35 1370.43h0M526.82 1370.11h0M527.29 1369.78h0M527.76 1369.44h0M528.23 1369.11h0M528.69 1368.77h0M529.15 1368.43h0M529.61 1368.08h0M530.06 1367.74h0M530.52 1367.38h0M530.97 1367.03h0M531.42 1366.67h0M531.87 1366.31h0M532.31 1365.94h0M532.76 1365.58h0M533.20 1365.21h0M533.64 1364.83h0M534.08 1364.45h0M534.51 1364.07h0M534.94 1363.69h0M535.38 1363.30h0M535.81 1362.91h0M536.24 1362.52h0M536.66 1362.12h0M537.09 1361.72h0M537.51 1361.32h0M537.93 1360.92h0M538.35 1360.51h0M538.77 1360.10h0M539.18 1359.68h0M539.59 1359.26h0M540.01 1358.84h0M540.42 1358.42h0M540.83 1358.00h0M541.23 1357.57h0M541.64 1357.13h0M542.04 1356.70h0M542.44 1356.26h0M542.84 1355.82h0M543.24 1355.38h0M543.64 1354.93h0M544.03 1354.48h0M544.43 1354.03h0M544.82 1353.58h0M545.21 1353.12h0M545.60 1352.66h0M545.99 1352.20h0M546.37 1351.74h0M546.76 1351.27h0M547.14 1350.80h0M547.52 1350.33h0M547.90 1349.85h0M548.28 1349.38h0M548.66 1348.90h0M549.03 1348.41h0M549.41 1347.93h0M549.78 1347.44h0M550.15 1346.95h0M550.52 1346.46h0M550.89 1345.97h0M551.26 1345.47h0M551.62 1344.97h0M551.99 1344.47h0M552.35 1343.97h0M552.71 1343.47h0M553.07 1342.96h0M553.43 1342.45h0M553.79 1341.94h0M554.14 1341.43h0M554.50 1340.91h0M554.85 1340.39h0M555.21 1339.87h0M555.56 1339.35h0M555.91 1338.83h0M556.26 1338.31h0M556.60 1337.78h0M556.95 1337.25h0M557.30 1336.72h0M557.64 1336.19h0M557.98 1335.65h0M558.32 1335.12h0M558.66 1334.58h0M559.00 1334.04h0M559.34 1333.50h0M559.68 1332.96h0M560.01 1332.42h0M560.35 1331.87h0M560.68 1331.32h0M561.01 1330.77h0M561.34 1330.23h0M561.67 1329.67h0M562.00 1329.12h0M562.33 1328.57h0M562.66 1328.01h0M562.98 1327.45h0M563.31 1326.90h0M563.63 1326.34h0M563.95 1325.78h0M564.28 1325.21h0M564.60 1324.65h0M564.91 1324.08h0M565.23 1323.52h0M565.55 1322.95h0M565.87 1322.38h0M566.18 1321.82h0M566.50 1321.24h0M566.81 1320.67h0M567.12 1320.10h0M567.43 1319.53h0M567.74 1318.95h0M568.05 1318.38h0M568.36 1317.80h0M568.67 1317.22h0M568.97 1316.65h0M569.28 1316.07h0M569.58 1315.49h0M569.89 1314.91h0M570.19 1314.33h0M570.49 1313.74h0M570.79 1313.16h0M571.09 1312.58h0M571.39 1311.99h0M571.69 1311.41h0M571.98 1310.82h0M572.28 1310.23h0M572.57 1309.65h0M572.87 1309.06h0M573.16 1308.47h0M573.45 1307.88h0M573.75 1307.29h0M574.04 1306.70h0M574.33 1306.11h0M574.62 1305.52h0M574.90 1304.93h0M575.19 1304.34h0M575.48 1303.74h0M575.76 1303.15h0M576.05 1302.56h0M576.33 1301.96h0M576.62 1301.37h0M576.90 1300.77h0M577.18 1300.18h0M577.46 1299.58h0M577.74 1298.99h0M578.02 1298.39h0M578.30 1297.80h0M578.58 1297.20h0M578.85 1296.60h0M579.13 1296.01h0M579.40 1295.41h0M579.68 1294.81h0M579.95 1294.21h0M580.22 1293.62h0M580.50 1293.02h0M580.77 1292.42h0M581.04 1291.82h0M581.31 1291.22h0M581.58 1290.62h0M581.85 1290.02h0M582.12 1289.41h0M583.74 1285.75h0M585.36 1282.03h0M586.98 1278.25h0M588.60 1274.42h0M590.22 1270.52h0M591.84 1266.58h0M593.46 1262.58h0M595.08 1258.53h0M596.70 1254.43h0M598.32 1250.29h0M599.94 1246.10h0M601.56 1241.86h0M603.18 1237.58h0M604.80 1233.26h0" stroke="#0072BD" stroke-width="3.50" stroke-linecap="round" fill="none"/>
<path d="M156.51 1371.65h0M163.17 1371.65h0M169.41 1371.65h0M175.28 1371.65h0M180.81 1371.65h0M186.05 1371.65h0M191.02 1371.65h0M195.75 1371.65h0M200.27 1371.65h0M204.58 1371.65h0M208.71 1371.65h0M212.68 1371.65h0M216.49 1371.65h0M220.15 1371.65h0M223.69 1371.65h0M227.10 1371.65h0M230.40 1371.65h0M233.59 1371.65h0M236.67 1371.65h0M239.67 1371.66h0M242.57 1371.66h0M245.39 1371.66h0M248.14 1371.66h0M250.80 1371.66h0M253.40 1371.66h0M255.93 1371.67h0M258.40 1371.67h0M260.80 1371.67h0M263.15 1371.67h0M265.44 1371.68h0M267.68 1371.68h0M269.87 1371.69h0M272.01 1371.70h0M274.11 1371.70h0M276.16 1371.71h0M278.17 1371.72h0M280.14 1371.73h0M282.07 1371.74h0M283.97 1371.75h0M285.82 1371.77h0M287.65 1371.79h0M289.44 1371.80h0M291.19 1371.82h0M292.92 1371.85h0M294.62 1371.87h0M296.28 1371.90h0M297.92 1371.93h0M299.54 1371.96h0M301.12 1372.00h0M302.68 1372.04h0M304.22 1372.08h0M305.73 1372.13h0M307.22 1372.18h0M308.69 1372.23h0M310.14 1372.29h0M311.56 1372.36h0M312.97 1372.43h0M314.35 1372.50h0M315.72 1372.58h0M317.06 1372.67h0M318.39 1372.76h0M319.70 1372.86h0M320.99 1372.96h0M322.27 1373.07h0M323.53 1373.19h0M324.77 1373.31h0M326.00 1373.45h0M327.21 1373.58h0M328.41 1373.73h0M329.60 1373.88h0M330.76 1374.03h0M331.92 1374.20h0M333.06 1374.37h0M334.19 1374.55h0M335.31 1374.73h0M336.41 1374.92h0M337.50 1375.11h0M338.58 1375.31h0M339.65 1375.51h0M340.70 1375.72h0M341.75 1375.94h0M342.78 1376.15h0M343.81 1376.38h0M344.82 1376.60h0M345.82 1376.83h0M346.81 1377.06h0M347.79 1377.29h0M348.76 1377.52h0M349.73 1377.75h0M350.68 1377.99h0M351.62 1378.23h0M352.56 1378.46h0M353.48 1378.70h0M354.40 1378.93h0M355.31 1379.17h0M356.21 1379.40h0M357.10 1379.63h0M357.99 1379.86h0M358.86 1380.09h0M359.73 1380.31h0M360.59 1380.54h0M361.45 1380.76h0M362.29 1380.98h0M363.13 1381.19h0M363.96 1381.41h0M364.79 1381.61h0M365.60 1381.82h0M366.42 1382.02h0M367.22 1382.22h0M368.02 1382.42h0M368.81 1382.61h0M369.59 1382.80h0M370.37 1382.99h0M371.14 1383.17h0M371.91 1383.35h0M372.67 1383.53h0M373.43 1383.70h0M374.18 1383.87h0M374.92 1384.03h0M375.66 1384.19h0M376.39 1384.35h0M377.11 1384.51h0M377.84 1384.66h0M378.55 1384.81h0M379.26 1384.95h0M379.97 1385.10h0M380.67 1385.23h0M381.36 1385.37h0M382.05 1385.50h0M382.74 1385.63h0M383.42 1385.76h0M384.10 1385.88h0M384.77 1386.01h0M385.44 1386.12h0M386.10 1386.24h0M386.76 1386.35h0M387.41 1386.46h0M388.06 1386.57h0M388.71 1386.68h0M389.35 1386.78h0M389.98 1386.88h0M390.62 1386.98h0M391.25 1387.08h0M391.87 1387.17h0M392.49 1387.26h0M393.11 1387.35h0M393.72 1387.44h0M394.33 1387.53h0M394.93 1387.61h0M395.54 1387.69h0M396.13 1387.77h0M396.73 1387.85h0M397.32 1387.93h0M397.91 1388.00h0M398.49 1388.07h0M399.07 1388.14h0M399.65 1388.21h0M400.22 1388.28h0M400.79 1388.35h0M401.36 1388.41h0M401.92 1388.48h0M402.48 1388.54h0M403.04 1388.60h0M403.59 1388.66h0M404.14 1388.71h0M404.69 1388.77h0M405.78 1388.88h0M406.85 1388.98h0M407.91 1389.08h0M408.96 1389.18h0M410.00 1389.27h0M411.03 1389.35h0M412.05 1389.44h0M413.06 1389.51h0M414.06 1389.59h0M415.04 1389.66h0M416.02 1389.73h0M416.99 1389.79h0M417.95 1389.85h0M418.90 1389.91h0M419.84 1389.97h0M420.77 1390.02h0M421.69 1390.07h0M422.61 1390.12h0M423.51 1390.16h0M424.41 1390.21h0M425.30 1390.25h0M426.18 1390.29h0M427.05 1390.32h0M427.92 1390.36h0M428.77 1390.39h0M429.62 1390.42h0M430.47 1390.45h0M431.30 1390.48h0M432.13 1390.50h0M432.95 1390.52h0M433.77 1390.53h0M434.58 1390.51h0M435.38 1390.50h0M436.17 1390.48h0M436.96 1390.46h0M437.74 1390.44h0M438.52 1390.42h0M439.29 1390.40h0M440.05 1390.38h0M440.81 1390.36h0M441.56 1390.33h0M442.31 1390.31h0M443.05 1390.29h0M443.79 1390.26h0M444.52 1390.24h0M445.24 1390.21h0M445.96 1390.18h0M446.67 1390.16h0M447.38 1390.13h0M448.09 1390.10h0M448.79 1390.07h0M449.48 1390.04h0M450.17 1390.01h0M450.85 1389.97h0M451.53 1389.94h0M452.21 1389.90h0M452.88 1389.87h0M453.54 1389.83h0M454.20 1389.79h0M454.86 1389.75h0M455.51 1389.71h0M456.16 1389.66h0M456.80 1389.62h0M457.44 1389.57h0M458.08 1389.53h0M458.71 1389.48h0M459.33 1389.43h0M459.96 1389.38h0M460.58 1389.32h0M461.19 1389.27h0M461.80 1389.21h0M462.41 1389.15h0M463.01 1389.09h0M463.61 1389.03h0M464.21 1388.97h0M464.80 1388.91h0M465.39 1388.84h0M465.98 1388.77h0M466.56 1388.70h0M467.14 1388.63h0M467.71 1388.56h0M468.29 1388.49h0M468.85 1388.42h0M469.42 1388.34h0M469.98 1388.27h0M470.54 1388.19h0M471.10 1388.11h0M471.65 1388.03h0M472.20 1387.95h0M472.74 1387.87h0M473.56 1387.75h0M474.37 1387.63h0M475.17 1387.50h0M475.96 1387.38h0M476.75 1387.25h0M477.53 1387.12h0M478.31 1386.99h0M479.07 1386.86h0M479.84 1386.73h0M480.60 1386.60h0M481.35 1386.47h0M482.09 1386.34h0M482.83 1386.21h0M483.57 1386.08h0M484.30 1385.94h0M485.02 1385.81h0M485.74 1385.68h0M486.45 1385.54h0M487.16 1385.40h0M487.86 1385.27h0M488.56 1385.13h0M489.25 1384.99h0M489.94 1384.84h0M490.62 1384.70h0M491.30 1384.56h0M491.98 1384.41h0M492.65 1384.26h0M493.31 1384.11h0M493.97 1383.96h0M494.63 1383.81h0M495.28 1383.65h0M495.93 1383.50h0M496.57 1383.34h0M497.21 1383.17h0M497.84 1383.01h0M498.47 1382.84h0M499.10 1382.68h0M499.72 1382.50h0M500.34 1382.33h0M500.95 1382.16h0M501.56 1381.98h0M502.17 1381.80h0M502.77 1381.61h0M503.37 1381.43h0M503.97 1381.24h0M504.56 1381.04h0M505.15 1380.85h0M505.74 1380.65h0M506.32 1380.45h0M506.90 1380.25h0M507.47 1380.04h0M508.04 1379.83h0M508.61 1379.62h0M509.18 1379.41h0M509.74 1379.19h0M510.30 1378.97h0M510.85 1378.75h0M511.40 1378.52h0M511.95 1378.29h0M512.50 1378.05h0M513.04 1377.82h0M513.58 1377.58h0M514.12 1377.34h0M514.65 1377.09h0M515.18 1376.84h0M515.71 1376.59h0M516.24 1376.33h0M516.76 1376.08h0M517.28 1375.81h0M517.80 1375.55h0M518.31 1375.28h0M518.82 1375.01h0M519.33 1374.73h0M519.84 1374.46h0M520.34 1374.17h0M520.84 1373.89h0M521.34 1373.60h0M521.84 1373.31h0M522.33 1373.02h0M522.82 1372.72h0M523.31 1372.42h0M523.80 1372.11h0M524.28 1371.80h0M524.77 1371.49h0M525.24 1371.18h0M525.72 1370.86h0M526.20 1370.54h0M526.67 1370.21h0M527.14 1369.89h0M527.61 1369.56h0M528.07 1369.22h0M528.53 1368.88h0M529.00 1368.54h0M529.45 1368.20h0M529.91 1367.85h0M530.37 1367.50h0M530.82 1367.15h0M531.27 1366.79h0M531.72 1366.43h0M532.16 1366.07h0M532.61 1365.70h0M533.05 1365.33h0M533.49 1364.96h0M533.93 1364.58h0M534.37 1364.20h0M534.80 1363.82h0M535.23 1363.43h0M535.66 1363.04h0M536.09 1362.65h0M536.52 1362.26h0M536.94 1361.86h0M537.37 1361.46h0M537.79 1361.05h0M538.21 1360.64h0M538.63 1360.23h0M539.04 1359.82h0M539.46 1359.40h0M539.87 1358.98h0M540.28 1358.56h0M540.69 1358.14h0M541.10 1357.71h0M541.50 1357.28h0M541.91 1356.84h0M542.31 1356.41h0M542.71 1355.97h0M543.11 1355.53h0M543.51 1355.08h0M543.90 1354.63h0M544.30 1354.18h0M544.69 1353.73h0M545.08 1353.27h0M545.47 1352.82h0M545.86 1352.36h0M546.24 1351.89h0M546.63 1351.43h0M547.01 1350.96h0M547.39 1350.49h0M547.77 1350.01h0M548.15 1349.53h0M548.53 1349.06h0M548.91 1348.57h0M549.28 1348.09h0M549.65 1347.61h0M550.03 1347.12h0M550.40 1346.63h0M550.77 1346.13h0M551.13 1345.64h0M551.50 1345.14h0M551.86 1344.64h0M552.23 1344.14h0M552.59 1343.64h0M552.95 1343.13h0M553.31 1342.62h0M553.67 1342.11h0M554.03 1341.60h0M554.38 1341.08h0M554.74 1340.57h0M555.09 1340.05h0M555.44 1339.53h0M555.79 1339.01h0M556.14 1338.48h0M556.49 1337.96h0M556.83 1337.43h0M557.18 1336.90h0M557.52 1336.37h0M557.87 1335.83h0M558.21 1335.30h0M558.55 1334.76h0M558.89 1334.22h0M559.23 1333.68h0M559.57 1333.14h0M559.90 1332.60h0M560.24 1332.05h0M560.57 1331.51h0M560.90 1330.96h0M561.23 1330.41h0M561.56 1329.86h0M561.89 1329.31h0M562.22 1328.75h0M562.55 1328.20h0M562.88 1327.64h0M563.20 1327.08h0M563.52 1326.52h0M563.85 1325.96h0M564.17 1325.40h0M564.49 1324.84h0M564.81 1324.27h0M565.13 1323.71h0M565.44 1323.14h0M565.76 1322.57h0M566.08 1322.00h0M566.39 1321.43h0M566.70 1320.86h0M567.02 1320.29h0M567.33 1319.72h0M567.64 1319.14h0M567.95 1318.57h0M568.26 1317.99h0M568.56 1317.42h0M568.87 1316.84h0M569.18 1316.26h0M569.48 1315.68h0M569.78 1315.10h0M570.09 1314.52h0M570.39 1313.94h0M570.69 1313.35h0M570.99 1312.77h0M571.29 1312.19h0M571.59 1311.60h0M571.88 1311.02h0M572.18 1310.43h0M572.48 1309.84h0M572.77 1309.26h0M573.06 1308.67h0M573.36 1308.08h0M573.65 1307.49h0M573.94 1306.90h0M574.23 1306.31h0M574.52 1305.72h0M574.81 1305.13h0M575.10 1304.53h0M575.38 1303.94h0M575.67 1303.35h0M575.95 1302.75h0M576.24 1302.16h0M576.52 1301.57h0M576.80 1300.97h0M577.09 1300.38h0M577.37 1299.78h0M577.65 1299.19h0M577.93 1298.59h0M578.21 1297.99h0M578.48 1297.40h0M578.76 1296.80h0M579.04 1296.20h0M579.31 1295.61h0M579.59 1295.01h0M579.86 1294.41h0M580.13 1293.81h0M580.41 1293.22h0M580.68 1292.62h0M580.95 1292.02h0M581.22 1291.42h0M581.49 1290.82h0M581.76 1290.22h0M582.12 1289.41h0M583.74 1285.75h0M585.36 1282.03h0M586.98 1278.25h0M588.60 1274.42h0M590.22 1270.52h0M591.84 1266.58h0M593.46 1262.58h0M595.08 1258.53h0M596.70 1254.43h0M598.32 1250.29h0M599.94 1246.10h0M601.56 1241.86h0M603.18 1237.58h0M604.80 1233.26h0" stroke="#D95319" stroke-width="3.50" stroke-linecap="round" fill="none"/>
<path d="M156.51 1391.02h0M163.17 1391.02h0M169.41 1391.02h0M175.28 1391.02h0M180.81 1391.02h0M186.05 1391.02h0M191.02 1391.02h0M195.75 1391.02h0M200.27 1391.02h0M204.58 1391.02h0M208.71 1391.02h0M212.68 1391.02h0M216.49 1391.02h0M220.15 1391.02h0M223.69 1391.02h0M227.10 1391.02h0M230.40 1391.02h0M233.59 1391.02h0M236.67 1391.02h0M239.67 1391.02h0M242.57 1391.02h0M245.39 1391.02h0M248.14 1391.02h0M250.80 1391.02h0M253.40 1391.02h0M255.93 1391.02h0M258.40 1391.02h0M260.80 1391.02h0M263.15 1391.02h0M265.44 1391.02h0M267.68 1391.02h0M269.87 1391.02h0M272.01 1391.02h0M274.11 1391.02h0M276.16 1391.02h0M278.17 1391.02h0M280.14 1391.02h0M282.07 1391.02h0M283.97 1391.02h0M285.82 1391.02h0M287.65 1391.02h0M289.44 1391.02h0M291.19 1391.02h0M292.92 1391.02h0M294.62 1391.02h0M296.28 1391.02h0M297.92 1391.02h0M299.54 1391.02h0M301.12 1391.02h0M302.68 1391.02h0M304.22 1391.02h0M305.73 1391.02h0M307.22 1391.02h0M308.69 1391.02h0M310.14 1391.02h0M311.56 1391.02h0M312.97 1391.02h0M314.35 1391.02h0M315.72 1391.02h0M317.06 1391.02h0M318.39 1391.02h0M319.70 1391.02h0M320.99 1391.02h0M322.27 1391.02h0M323.53 1391.02h0M324.77 1391.02h0M326.00 1391.02h0M327.21 1391.02h0M328.41 1391.02h0M329.60 1391.02h0M330.76 1391.02h0M331.92 1391.02h0M333.06 1391.02h0M334.19 1391.02h0M335.31 1391.02h0M336.41 1391.02h0M337.50 1391.01h0M338.58 1391.01h0M339.65 1391.01h0M340.70 1391.01h0M341.75 1391.01h0M342.78 1391.01h0M343.81 1391.01h0M344.82 1391.01h0M345.82 1391.01h0M346.81 1391.01h0M347.79 1391.01h0M348.76 1391.01h0M349.73 1391.01h0M350.68 1391.01h0M351.62 1391.01h0M352.56 1391.01h0M353.48 1391.01h0M354.40 1391.01h0M355.31 1391.00h0M356.21 1391.00h0M357.10 1391.00h0M357.99 1391.00h0M358.86 1391.00h0M359.73 1391.00h0M360.59 1391.00h0M361.45 1391.00h0M362.29 1391.00h0M363.13 1391.00h0M363.96 1391.00h0M364.79 1391.00h0M365.60 1390.99h0M366.42 1390.99h0M367.22 1390.99h0M368.02 1390.99h0M368.81 1390.99h0M369.59 1390.99h0M370.37 1390.99h0M371.14 1390.99h0M371.91 1390.99h0M372.67 1390.98h0M373.43 1390.98h0M374.18 1390.98h0M374.92 1390.98h0M375.66 1390.98h0M376.39 1390.98h0M377.11 1390.98h0M377.84 1390.97h0M378.55 1390.97h0M379.26 1390.97h0M379.97 1390.97h0M380.67 1390.97h0M381.36 1390.97h0M382.05 1390.97h0M382.74 1390.96h0M383.42 1390.96h0M384.10 1390.96h0M384.77 1390.96h0M385.44 1390.96h0M386.10 1390.96h0M386.76 1390.95h0M387.41 1390.95h0M388.06 1390.95h0M388.71 1390.95h0M389.35 1390.95h0M389.98 1390.94h0M390.62 1390.94h0M391.25 1390.94h0M391.87 1390.94h0M392.49 1390.93h0M393.11 1390.93h0M393.72 1390.93h0M394.33 1390.93h0M394.93 1390.92h0M395.54 1390.92h0M396.13 1390.92h0M396.73 1390.92h0M397.32 1390.91h0M397.91 1390.91h0M398.49 1390.91h0M399.07 1390.91h0M399.65 1390.90h0M400.22 1390.90h0M400.79 1390.90h0M401.36 1390.90h0M401.92 1390.89h0M402.48 1390.89h0M403.04 1390.89h0M403.59 1390.88h0M404.14 1390.88h0M405.23 1390.87h0M406.31 1390.87h0M407.38 1390.86h0M408.44 1390.85h0M409.49 1390.84h0M410.52 1390.84h0M411.54 1390.83h0M412.56 1390.82h0M413.56 1390.81h0M414.55 1390.80h0M415.53 1390.79h0M416.51 1390.78h0M417.47 1390.77h0M418.42 1390.76h0M419.37 1390.75h0M420.31 1390.74h0M421.23 1390.73h0M422.15 1390.72h0M423.06 1390.71h0M423.96 1390.70h0M424.85 1390.68h0M425.74 1390.67h0M426.62 1390.66h0M427.48 1390.65h0M428.35 1390.63h0M429.20 1390.62h0M430.05 1390.60h0M430.89 1390.59h0M431.72 1390.57h0M432.54 1390.56h0M433.36 1390.54h0M434.17 1390.52h0M434.98 1390.50h0M435.78 1390.49h0M436.57 1390.47h0M437.35 1390.45h0M438.13 1390.43h0M438.91 1390.41h0M439.67 1390.39h0M440.43 1390.37h0M441.19 1390.35h0M441.94 1390.32h0M442.68 1390.30h0M443.42 1390.28h0M444.15 1390.25h0M444.88 1390.22h0M445.60 1390.20h0M446.32 1390.17h0M447.03 1390.14h0M447.74 1390.11h0M448.44 1390.08h0M449.13 1390.05h0M449.82 1390.02h0M450.51 1389.99h0M451.19 1389.96h0M451.87 1389.92h0M452.54 1389.88h0M453.21 1389.85h0M453.87 1389.81h0M454.53 1389.77h0M455.18 1389.73h0M455.83 1389.69h0M456.48 1389.64h0M457.12 1389.60h0M457.76 1389.55h0M458.39 1389.50h0M459.02 1389.45h0M459.65 1389.40h0M460.27 1389.35h0M460.88 1389.29h0M461.50 1389.24h0M462.11 1389.18h0M462.71 1389.12h0M463.31 1389.06h0M463.91 1389.00h0M464.51 1388.94h0M465.10 1388.87h0M465.68 1388.81h0M466.27 1388.74h0M466.85 1388.67h0M467.43 1388.60h0M468.00 1388.53h0M468.57 1388.45h0M469.14 1388.38h0M469.70 1388.30h0M470.26 1388.23h0M470.82 1388.15h0M471.37 1388.07h0M471.92 1387.99h0M472.47 1387.91h0M473.02 1387.83h0M473.83 1387.71h0M474.63 1387.58h0M475.43 1387.46h0M476.22 1387.33h0M477.01 1387.21h0M477.79 1387.08h0M478.56 1386.95h0M479.33 1386.82h0M480.09 1386.69h0M480.85 1386.56h0M481.60 1386.43h0M482.34 1386.30h0M483.08 1386.17h0M483.81 1386.03h0M484.54 1385.90h0M485.26 1385.77h0M485.98 1385.63h0M486.69 1385.49h0M487.39 1385.36h0M488.10 1385.22h0M488.79 1385.08h0M489.48 1384.94h0M490.17 1384.80h0M490.85 1384.65h0M491.53 1384.51h0M492.20 1384.36h0M492.87 1384.21h0M493.53 1384.06h0M494.19 1383.91h0M494.84 1383.76h0M495.49 1383.60h0M496.14 1383.44h0M496.78 1383.28h0M497.42 1383.12h0M498.05 1382.96h0M498.68 1382.79h0M499.31 1382.62h0M499.93 1382.45h0M500.54 1382.27h0M501.16 1382.10h0M501.77 1381.92h0M502.37 1381.73h0M502.97 1381.55h0M503.57 1381.36h0M504.17 1381.17h0M504.76 1380.98h0M505.35 1380.78h0M505.93 1380.59h0M506.51 1380.39h0M507.09 1380.18h0M507.66 1379.97h0M508.23 1379.76h0M508.80 1379.55h0M509.36 1379.34h0M509.92 1379.12h0M510.48 1378.89h0M511.04 1378.67h0M511.59 1378.44h0M512.14 1378.21h0M512.68 1377.98h0M513.22 1377.74h0M513.76 1377.50h0M514.30 1377.25h0M514.83 1377.01h0M515.36 1376.76h0M515.89 1376.50h0M516.41 1376.25h0M516.93 1375.99h0M517.45 1375.73h0M517.97 1375.46h0M518.48 1375.19h0M518.99 1374.92h0M519.50 1374.64h0M520.01 1374.36h0M520.51 1374.08h0M521.01 1373.79h0M521.51 1373.50h0M522.00 1373.21h0M522.50 1372.92h0M522.99 1372.62h0M523.48 1372.31h0M523.96 1372.01h0M524.44 1371.70h0M524.93 1371.39h0M525.40 1371.07h0M525.88 1370.75h0M526.35 1370.43h0M526.82 1370.11h0M527.29 1369.78h0M527.76 1369.44h0M528.23 1369.11h0M528.69 1368.77h0M529.15 1368.43h0M529.61 1368.08h0M530.06 1367.74h0M530.52 1367.38h0M530.97 1367.03h0M531.42 1366.67h0M531.87 1366.31h0M532.31 1365.94h0M532.76 1365.58h0M533.20 1365.21h0M533.64 1364.83h0M534.08 1364.45h0M534.51 1364.07h0M534.94 1363.69h0M535.38 1363.30h0M535.81 1362.91h0M536.24 1362.52h0M536.66 1362.12h0M537.09 1361.72h0M537.51 1361.32h0M537.93 1360.92h0M538.35 1360.51h0M538.77 1360.10h0M539.18 1359.68h0M539.59 1359.26h0M540.01 1358.84h0M540.42 1358.42h0M540.83 1358.00h0M541.23 1357.57h0M541.64 1357.13h0M542.04 1356.70h0M542.44 1356.26h0M542.84 1355.82h0M543.24 1355.38h0M543.64 1354.93h0M544.03 1354.48h0M544.43 1354.03h0M544.82 1353.58h0M545.21 1353.12h0M545.60 1352.66h0M545.99 1352.20h0M546.37 1351.74h0M546.76 1351.27h0M547.14 1350.80h0M547.52 1350.33h0M547.90 1349.85h0M548.28 1349.38h0M548.66 1348.90h0M549.03 1348.41h0M549.41 1347.93h0M549.78 1347.44h0M550.15 1346.95h0M550.52 1346.46h0M550.89 1345.97h0M551.26 1345.47h0M551.62 1344.97h0M551.99 1344.47h0M552.35 1343.97h0M552.71 1343.47h0M553.07 1342.96h0M553.43 1342.45h0M553.79 1341.94h0M554.14 1341.43h0M554.50 1340.91h0M554.85 1340.39h0M555.21 1339.87h0M555.56 1339.35h0M555.91 1338.83h0M556.26 1338.31h0M556.60 1337.78h0M556.95 1337.25h0M557.30 1336.72h0M557.64 1336.19h0M557.98 1335.65h0M558.32 1335.12h0M558.66 1334.58h0M559.00 1334.04h0M559.34 1333.50h0M559.68 1332.96h0M560.01 1332.42h0M560.35 1331.87h0M560.68 1331.32h0M561.01 1330.77h0M561.34 1330.23h0M561.67 1329.67h0M562.00 1329.12h0M562.33 1328.57h0M562.66 1328.01h0M562.98 1327.45h0M563.31 1326.90h0M563.63 1326.34h0M563.95 1325.78h0M564.28 1325.21h0M564.60 1324.65h0M564.91 1324.08h0M565.23 1323.52h0M565.55 1322.95h0M565.87 1322.38h0M566.18 1321.82h0M566.50 1321.24h0M566.81 1320.67h0M567.12 1320.10h0M567.43 1319.53h0M567.74 1318.95h0M568.05 1318.38h0M568.36 1317.80h0M568.67 1317.22h0M568.97 1316.65h0M569.28 1316.07h0M569.58 1315.49h0M569.89 1314.91h0M570.19 1314.33h0M570.49 1313.74h0M570.79 1313.16h0M571.09 1312.58h0M571.39 1311.99h0M571.69 1311.41h0M571.98 1310.82h0M572.28 1310.23h0M572.57 1309.65h0M572.87 1309.06h0M573.16 1308.47h0M573.45 1307.88h0M573.75 1307.29h0M574.04 1306.70h0M574.33 1306.11h0M574.62 1305.52h0M574.90 1304.93h0M575.19 1304.34h0M575.48 1303.74h0M575.76 1303.15h0M576.05 1302.56h0M576.33 1301.96h0M576.62 1301.37h0M576.90 1300.77h0M577.18 1300.18h0M577.46 1299.58h0M577.74 1298.99h0M578.02 1298.39h0M578.30 1297.80h0M578.58 1297.20h0M578.85 1296.60h0M579.13 1296.01h0M579.40 1295.41h0M579.68 1294.81h0M579.95 1294.21h0M580.22 1293.62h0M580.50 1293.02h0M580.77 1292.42h0M581.04 1291.82h0M581.31 1291.22h0M581.58 1290.62h0M581.85 1290.02h0M582.12 1289.41h0M583.74 1285.75h0M585.36 1282.03h0M586.98 1278.25h0M588.60 1274.42h0M590.22 1270.52h0M591.84 1266.58h0M593.46 1262.58h0M595.08 1258.53h0M596.70 1254.43h0M598.32 1250.29h0M599.94 1246.10h0M601.56 1241.86h0M603.18 1237.58h0M604.80 1233.26h0" stroke="#EDB120" stroke-width="3.50" stroke-linecap="round" fill="none"/>
</g>
<path d="M159.40 1416.90v-2.3M159.40 1037.20v2.3M166.95 1416.90v-2.3M166.95 1037.20v2.3M173.48 1416.90v-2.3M173.48 1037.20v2.3M179.24 1416.90v-2.3M179.24 1037.20v2.3M184.40 1416.90v-2.3M184.40 1037.20v2.3M218.32 1416.90v-2.3M218.32 1037.20v2.3M238.16 1416.90v-2.3M238.16 1037.20v2.3M252.23 1416.90v-2.3M252.23 1037.20v2.3M263.15 1416.90v-2.3M263.15 1037.20v2.3M272.07 1416.90v-2.3M272.07 1037.20v2.3M279.62 1416.90v-2.3M279.62 1037.20v2.3M286.15 1416.90v-2.3M286.15 1037.20v2.3M291.91 1416.90v-2.3M291.91 1037.20v2.3M297.07 1416.90v-2.3M297.07 1037.20v2.3M330.99 1416.90v-2.3M330.99 1037.20v2.3M350.83 1416.90v-2.3M350.83 1037.20v2.3M364.90 1416.90v-2.3M364.90 1037.20v2.3M375.82 1416.90v-2.3M375.82 1037.20v2.3M384.74 1416.90v-2.3M384.74 1037.20v2.3M392.29 1416.90v-2.3M392.29 1037.20v2.3M398.82 1416.90v-2.3M398.82 1037.20v2.3M404.58 1416.90v-2.3M404.58 1037.20v2.3M409.74 1416.90v-2.3M409.74 1037.20v2.3M443.66 1416.90v-2.3M443.66 1037.20v2.3M463.50 1416.90v-2.3M463.50 1037.20v2.3M477.57 1416.90v-2.3M477.57 1037.20v2.3M488.49 1416.90v-2.3M488.49 1037.20v2.3M497.41 1416.90v-2.3M497.41 1037.20v2.3M504.96 1416.90v-2.3M504.96 1037.20v2.3M511.49 1416.90v-2.3M511.49 1037.20v2.3M517.25 1416.90v-2.3M517.25 1037.20v2.3M522.41 1416.90v-2.3M522.41 1037.20v2.3M556.33 1416.90v-2.3M556.33 1037.20v2.3M576.17 1416.90v-2.3M576.17 1037.20v2.3M590.24 1416.90v-2.3M590.24 1037.20v2.3M601.16 1416.90v-2.3M601.16 1037.20v2.3M195.20 1416.90v-4.6M195.20 1037.20v4.6M331.30 1416.90v-4.6M331.30 1037.20v4.6M466.50 1416.90v-4.6M466.50 1037.20v4.6M602.40 1416.90v-4.6M602.40 1037.20v4.6M150.30 1338.15h2.3M606.40 1338.15h-2.3M150.30 1285.18h2.3M606.40 1285.18h-2.3M150.30 1247.60h2.3M606.40 1247.60h-2.3M150.30 1218.45h2.3M606.40 1218.45h-2.3M150.30 1194.63h2.3M606.40 1194.63h-2.3M150.30 1174.49h2.3M606.40 1174.49h-2.3M150.30 1157.05h2.3M606.40 1157.05h-2.3M150.30 1141.66h2.3M606.40 1141.66h-2.3M150.30 1127.90h2.3M606.40 1127.90h-2.3M150.30 1077.10h4.6M606.40 1077.10h-4.6M150.30 1183.10h4.6M606.40 1183.10h-4.6M150.30 1289.10h4.6M606.40 1289.10h-4.6M150.30 1395.10h4.6M606.40 1395.10h-4.6" stroke="#333333" stroke-width="1" fill="none"/>
<rect x="150.30" y="1037.20" width="456.10" height="379.70" fill="none" stroke="#333333" stroke-width="1.1"/>
<text x="39.68" y="72.30" font-size="31.60" textLength="16.05" lengthAdjust="spacingAndGlyphs">1</text><text x="64.23" y="78.40" font-size="40.00" textLength="23.29" lengthAdjust="spacingAndGlyphs" class="x">×</text><text x="94.88" y="72.30" font-size="31.60" textLength="33.18" lengthAdjust="spacingAndGlyphs">10</text><text x="128.01" y="60.90" font-size="22.00" textLength="10.00" lengthAdjust="spacingAndGlyphs">4</text><text x="40.66" y="178.30" font-size="31.60" textLength="13.94" lengthAdjust="spacingAndGlyphs">7</text><text x="64.23" y="184.40" font-size="40.00" textLength="23.29" lengthAdjust="spacingAndGlyphs" class="x">×</text><text x="94.88" y="178.30" font-size="31.60" textLength="33.18" lengthAdjust="spacingAndGlyphs">10</text><text x="127.32" y="166.90" font-size="22.00" textLength="11.26" lengthAdjust="spacingAndGlyphs">3</text><text x="41.19" y="284.30" font-size="31.60" textLength="13.68" lengthAdjust="spacingAndGlyphs">3</text><text x="64.23" y="290.40" font-size="40.00" textLength="23.29" lengthAdjust="spacingAndGlyphs" class="x">×</text><text x="94.88" y="284.30" font-size="31.60" textLength="33.18" lengthAdjust="spacingAndGlyphs">10</text><text x="127.32" y="272.90" font-size="22.00" textLength="11.26" lengthAdjust="spacingAndGlyphs">3</text><text x="39.68" y="390.30" font-size="31.60" textLength="16.05" lengthAdjust="spacingAndGlyphs">1</text><text x="64.23" y="396.40" font-size="40.00" textLength="23.29" lengthAdjust="spacingAndGlyphs" class="x">×</text><text x="94.88" y="390.30" font-size="31.60" textLength="33.18" lengthAdjust="spacingAndGlyphs">10</text><text x="127.32" y="378.90" font-size="22.00" textLength="11.26" lengthAdjust="spacingAndGlyphs">3</text><text x="144.78" y="441.00" font-size="31.60" textLength="16.05" lengthAdjust="spacingAndGlyphs">1</text><text x="169.33" y="447.10" font-size="40.00" textLength="23.29" lengthAdjust="spacingAndGlyphs" class="x">×</text><text x="199.98" y="441.00" font-size="31.60" textLength="33.18" lengthAdjust="spacingAndGlyphs">10</text><text x="232.66" y="429.60" font-size="22.00">0</text><text x="282.46" y="441.00" font-size="31.60" textLength="14.09" lengthAdjust="spacingAndGlyphs">2</text><text x="305.43" y="447.10" font-size="40.00" textLength="23.29" lengthAdjust="spacingAndGlyphs" class="x">×</text><text x="336.08" y="441.00" font-size="31.60" textLength="33.18" lengthAdjust="spacingAndGlyphs">10</text><text x="367.28" y="429.60" font-size="22.00" textLength="13.21" lengthAdjust="spacingAndGlyphs">1</text><text x="417.59" y="441.00" font-size="31.60" textLength="13.68" lengthAdjust="spacingAndGlyphs">3</text><text x="440.63" y="447.10" font-size="40.00" textLength="23.29" lengthAdjust="spacingAndGlyphs" class="x">×</text><text x="471.28" y="441.00" font-size="31.60" textLength="33.18" lengthAdjust="spacingAndGlyphs">10</text><text x="503.78" y="429.60" font-size="22.00" textLength="11.60" lengthAdjust="spacingAndGlyphs">2</text><text x="553.17" y="441.00" font-size="31.60" textLength="14.03" lengthAdjust="spacingAndGlyphs">5</text><text x="576.53" y="447.10" font-size="40.00" textLength="23.29" lengthAdjust="spacingAndGlyphs" class="x">×</text><text x="607.18" y="441.00" font-size="31.60" textLength="33.18" lengthAdjust="spacingAndGlyphs">10</text><text x="639.62" y="429.60" font-size="22.00" textLength="11.26" lengthAdjust="spacingAndGlyphs">3</text><text x="320.16" y="479.70" font-size="30.80" font-style="italic" textLength="15.90" lengthAdjust="spacingAndGlyphs">p</text><text x="345.46" y="479.70" font-size="35.00">(</text><text x="358.04" y="479.70" font-size="30.80" textLength="68.33" lengthAdjust="spacingAndGlyphs">MeV</text><text x="428.21" y="479.70" font-size="35.00" textLength="8.17" lengthAdjust="spacingAndGlyphs">)</text><g transform="translate(23.7 215.50) rotate(-90)"><text x="-82.26" y="0.00" font-size="31.40" font-style="italic" textLength="22.86" lengthAdjust="spacingAndGlyphs">E</text><text x="-56.47" y="0.00" font-size="35.00" textLength="11.15" lengthAdjust="spacingAndGlyphs">(</text><text x="-45.17" y="0.00" font-size="30.80" font-style="italic" textLength="15.62" lengthAdjust="spacingAndGlyphs">p</text><text x="-28.94" y="0.00" font-size="35.00" textLength="9.72" lengthAdjust="spacingAndGlyphs">)</text><text x="-4.87" y="0.00" font-size="35.00" textLength="10.37" lengthAdjust="spacingAndGlyphs">(</text><text x="6.27" y="0.00" font-size="30.80" textLength="66.60" lengthAdjust="spacingAndGlyphs">MeV</text><text x="74.28" y="0.00" font-size="35.00" textLength="9.47" lengthAdjust="spacingAndGlyphs">)</text></g>
<text x="39.68" y="578.50" font-size="31.60" textLength="16.05" lengthAdjust="spacingAndGlyphs">1</text><text x="64.23" y="584.60" font-size="40.00" textLength="23.29" lengthAdjust="spacingAndGlyphs" class="x">×</text><text x="94.88" y="578.50" font-size="31.60" textLength="33.18" lengthAdjust="spacingAndGlyphs">10</text><text x="128.01" y="567.10" font-size="22.00" textLength="10.00" lengthAdjust="spacingAndGlyphs">4</text><text x="40.66" y="684.50" font-size="31.60" textLength="13.94" lengthAdjust="spacingAndGlyphs">7</text><text x="64.23" y="690.60" font-size="40.00" textLength="23.29" lengthAdjust="spacingAndGlyphs" class="x">×</text><text x="94.88" y="684.50" font-size="31.60" textLength="33.18" lengthAdjust="spacingAndGlyphs">10</text><text x="127.32" y="673.10" font-size="22.00" textLength="11.26" lengthAdjust="spacingAndGlyphs">3</text><text x="41.19" y="790.50" font-size="31.60" textLength="13.68" lengthAdjust="spacingAndGlyphs">3</text><text x="64.23" y="796.60" font-size="40.00" textLength="23.29" lengthAdjust="spacingAndGlyphs" class="x">×</text><text x="94.88" y="790.50" font-size="31.60" textLength="33.18" lengthAdjust="spacingAndGlyphs">10</text><text x="127.32" y="779.10" font-size="22.00" textLength="11.26" lengthAdjust="spacingAndGlyphs">3</text><text x="39.68" y="896.50" font-size="31.60" textLength="16.05" lengthAdjust="spacingAndGlyphs">1</text><text x="64.23" y="902.60" font-size="40.00" textLength="23.29" lengthAdjust="spacingAndGlyphs" class="x">×</text><text x="94.88" y="896.50" font-size="31.60" textLength="33.18" lengthAdjust="spacingAndGlyphs">10</text><text x="127.32" y="885.10" font-size="22.00" textLength="11.26" lengthAdjust="spacingAndGlyphs">3</text><text x="144.78" y="947.20" font-size="31.60" textLength="16.05" lengthAdjust="spacingAndGlyphs">1</text><text x="169.33" y="953.30" font-size="40.00" textLength="23.29" lengthAdjust="spacingAndGlyphs" class="x">×</text><text x="199.98" y="947.20" font-size="31.60" textLength="33.18" lengthAdjust="spacingAndGlyphs">10</text><text x="232.66" y="935.80" font-size="22.00">0</text><text x="282.46" y="947.20" font-size="31.60" textLength="14.09" lengthAdjust="spacingAndGlyphs">2</text><text x="305.43" y="953.30" font-size="40.00" textLength="23.29" lengthAdjust="spacingAndGlyphs" class="x">×</text><text x="336.08" y="947.20" font-size="31.60" textLength="33.18" lengthAdjust="spacingAndGlyphs">10</text><text x="367.28" y="935.80" font-size="22.00" textLength="13.21" lengthAdjust="spacingAndGlyphs">1</text><text x="417.59" y="947.20" font-size="31.60" textLength="13.68" lengthAdjust="spacingAndGlyphs">3</text><text x="440.63" y="953.30" font-size="40.00" textLength="23.29" lengthAdjust="spacingAndGlyphs" class="x">×</text><text x="471.28" y="947.20" font-size="31.60" textLength="33.18" lengthAdjust="spacingAndGlyphs">10</text><text x="503.78" y="935.80" font-size="22.00" textLength="11.60" lengthAdjust="spacingAndGlyphs">2</text><text x="553.17" y="947.20" font-size="31.60" textLength="14.03" lengthAdjust="spacingAndGlyphs">5</text><text x="576.53" y="953.30" font-size="40.00" textLength="23.29" lengthAdjust="spacingAndGlyphs" class="x">×</text><text x="607.18" y="947.20" font-size="31.60" textLength="33.18" lengthAdjust="spacingAndGlyphs">10</text><text x="639.62" y="935.80" font-size="22.00" textLength="11.26" lengthAdjust="spacingAndGlyphs">3</text><text x="320.16" y="985.90" font-size="30.80" font-style="italic" textLength="15.90" lengthAdjust="spacingAndGlyphs">p</text><text x="345.46" y="985.90" font-size="35.00">(</text><text x="358.04" y="985.90" font-size="30.80" textLength="68.33" lengthAdjust="spacingAndGlyphs">MeV</text><text x="428.21" y="985.90" font-size="35.00" textLength="8.17" lengthAdjust="spacingAndGlyphs">)</text><g transform="translate(23.7 721.70) rotate(-90)"><text x="-82.26" y="0.00" font-size="31.40" font-style="italic" textLength="22.86" lengthAdjust="spacingAndGlyphs">E</text><text x="-56.47" y="0.00" font-size="35.00" textLength="11.15" lengthAdjust="spacingAndGlyphs">(</text><text x="-45.17" y="0.00" font-size="30.80" font-style="italic" textLength="15.62" lengthAdjust="spacingAndGlyphs">p</text><text x="-28.94" y="0.00" font-size="35.00" textLength="9.72" lengthAdjust="spacingAndGlyphs">)</text><text x="-4.87" y="0.00" font-size="35.00" textLength="10.37" lengthAdjust="spacingAndGlyphs">(</text><text x="6.27" y="0.00" font-size="30.80" textLength="66.60" lengthAdjust="spacingAndGlyphs">MeV</text><text x="74.28" y="0.00" font-size="35.00" textLength="9.47" lengthAdjust="spacingAndGlyphs">)</text></g>
<text x="39.68" y="1084.70" font-size="31.60" textLength="16.05" lengthAdjust="spacingAndGlyphs">1</text><text x="64.23" y="1090.80" font-size="40.00" textLength="23.29" lengthAdjust="spacingAndGlyphs" class="x">×</text><text x="94.88" y="1084.70" font-size="31.60" textLength="33.18" lengthAdjust="spacingAndGlyphs">10</text><text x="128.01" y="1073.30" font-size="22.00" textLength="10.00" lengthAdjust="spacingAndGlyphs">4</text><text x="40.66" y="1190.70" font-size="31.60" textLength="13.94" lengthAdjust="spacingAndGlyphs">7</text><text x="64.23" y="1196.80" font-size="40.00" textLength="23.29" lengthAdjust="spacingAndGlyphs" class="x">×</text><text x="94.88" y="1190.70" font-size="31.60" textLength="33.18" lengthAdjust="spacingAndGlyphs">10</text><text x="127.32" y="1179.30" font-size="22.00" textLength="11.26" lengthAdjust="spacingAndGlyphs">3</text><text x="41.19" y="1296.70" font-size="31.60" textLength="13.68" lengthAdjust="spacingAndGlyphs">3</text><text x="64.23" y="1302.80" font-size="40.00" textLength="23.29" lengthAdjust="spacingAndGlyphs" class="x">×</text><text x="94.88" y="1296.70" font-size="31.60" textLength="33.18" lengthAdjust="spacingAndGlyphs">10</text><text x="127.32" y="1285.30" font-size="22.00" textLength="11.26" lengthAdjust="spacingAndGlyphs">3</text><text x="39.68" y="1402.70" font-size="31.60" textLength="16.05" lengthAdjust="spacingAndGlyphs">1</text><text x="64.23" y="1408.80" font-size="40.00" textLength="23.29" lengthAdjust="spacingAndGlyphs" class="x">×</text><text x="94.88" y="1402.70" font-size="31.60" textLength="33.18" lengthAdjust="spacingAndGlyphs">10</text><text x="127.32" y="1391.30" font-size="22.00" textLength="11.26" lengthAdjust="spacingAndGlyphs">3</text><text x="144.78" y="1453.40" font-size="31.60" textLength="16.05" lengthAdjust="spacingAndGlyphs">1</text><text x="169.33" y="1459.50" font-size="40.00" textLength="23.29" lengthAdjust="spacingAndGlyphs" class="x">×</text><text x="199.98" y="1453.40" font-size="31.60" textLength="33.18" lengthAdjust="spacingAndGlyphs">10</text><text x="232.66" y="1442.00" font-size="22.00">0</text><text x="282.46" y="1453.40" font-size="31.60" textLength="14.09" lengthAdjust="spacingAndGlyphs">2</text><text x="305.43" y="1459.50" font-size="40.00" textLength="23.29" lengthAdjust="spacingAndGlyphs" class="x">×</text><text x="336.08" y="1453.40" font-size="31.60" textLength="33.18" lengthAdjust="spacingAndGlyphs">10</text><text x="367.28" y="1442.00" font-size="22.00" textLength="13.21" lengthAdjust="spacingAndGlyphs">1</text><text x="417.59" y="1453.40" font-size="31.60" textLength="13.68" lengthAdjust="spacingAndGlyphs">3</text><text x="440.63" y="1459.50" font-size="40.00" textLength="23.29" lengthAdjust="spacingAndGlyphs" class="x">×</text><text x="471.28" y="1453.40" font-size="31.60" textLength="33.18" lengthAdjust="spacingAndGlyphs">10</text><text x="503.78" y="1442.00" font-size="22.00" textLength="11.60" lengthAdjust="spacingAndGlyphs">2</text><text x="553.17" y="1453.40" font-size="31.60" textLength="14.03" lengthAdjust="spacingAndGlyphs">5</text><text x="576.53" y="1459.50" font-size="40.00" textLength="23.29" lengthAdjust="spacingAndGlyphs" class="x">×</text><text x="607.18" y="1453.40" font-size="31.60" textLength="33.18" lengthAdjust="spacingAndGlyphs">10</text><text x="639.62" y="1442.00" font-size="22.00" textLength="11.26" lengthAdjust="spacingAndGlyphs">3</text><text x="320.16" y="1492.10" font-size="30.80" font-style="italic" textLength="15.90" lengthAdjust="spacingAndGlyphs">p</text><text x="345.46" y="1492.10" font-size="35.00">(</text><text x="358.04" y="1492.10" font-size="30.80" textLength="68.33" lengthAdjust="spacingAndGlyphs">MeV</text><text x="428.21" y="1492.10" font-size="35.00" textLength="8.17" lengthAdjust="spacingAndGlyphs">)</text><g transform="translate(23.7 1227.90) rotate(-90)"><text x="-82.26" y="0.00" font-size="31.40" font-style="italic" textLength="22.86" lengthAdjust="spacingAndGlyphs">E</text><text x="-56.47" y="0.00" font-size="35.00" textLength="11.15" lengthAdjust="spacingAndGlyphs">(</text><text x="-45.17" y="0.00" font-size="30.80" font-style="italic" textLength="15.62" lengthAdjust="spacingAndGlyphs">p</text><text x="-28.94" y="0.00" font-size="35.00" textLength="9.72" lengthAdjust="spacingAndGlyphs">)</text><text x="-4.87" y="0.00" font-size="35.00" textLength="10.37" lengthAdjust="spacingAndGlyphs">(</text><text x="6.27" y="0.00" font-size="30.80" textLength="66.60" lengthAdjust="spacingAndGlyphs">MeV</text><text x="74.28" y="0.00" font-size="35.00" textLength="9.47" lengthAdjust="spacingAndGlyphs">)</text></g>
<rect x="381.50" y="0.90" width="262.00" height="98.60" fill="#fff" stroke="#262626" stroke-width="1"/><circle cx="410.30" cy="18.70" r="1.55" fill="#0072BD"/><text x="438.48" y="24.90" font-size="27.00" textLength="78.60" lengthAdjust="spacingAndGlyphs">Gluons</text><text x="524.51" y="24.90" font-size="24.60" textLength="21.28" lengthAdjust="spacingAndGlyphs">1,</text><text x="553.55" y="24.90" font-size="24.60" textLength="13.10" lengthAdjust="spacingAndGlyphs">2</text><text x="570.92" y="24.90" font-size="19.50" textLength="15.84" lengthAdjust="spacingAndGlyphs" class="a">&amp;</text><text x="596.17" y="24.90" font-size="24.60" textLength="13.92" lengthAdjust="spacingAndGlyphs">3</text><circle cx="410.30" cy="50.30" r="1.55" fill="#D95319"/><text x="438.48" y="56.70" font-size="27.00" textLength="78.60" lengthAdjust="spacingAndGlyphs">Gluons</text><text x="525.99" y="56.70" font-size="24.60" textLength="19.66" lengthAdjust="spacingAndGlyphs">4,</text><text x="553.35" y="56.70" font-size="24.60" textLength="22.54" lengthAdjust="spacingAndGlyphs">5,</text><text x="582.68" y="56.70" font-size="24.60" textLength="11.82" lengthAdjust="spacingAndGlyphs">6</text><text x="597.69" y="56.70" font-size="19.50" textLength="16.49" lengthAdjust="spacingAndGlyphs" class="a">&amp;</text><text x="625.46" y="56.70" font-size="24.60" textLength="12.46" lengthAdjust="spacingAndGlyphs">7</text><circle cx="410.30" cy="81.90" r="1.55" fill="#EDB120"/><text x="438.48" y="88.50" font-size="27.00" textLength="68.03" lengthAdjust="spacingAndGlyphs">Gluon</text><text x="515.01" y="88.50" font-size="24.60" textLength="12.98" lengthAdjust="spacingAndGlyphs">8</text>
<rect x="331.50" y="543.80" width="262.00" height="98.60" fill="#fff" stroke="#262626" stroke-width="1"/><circle cx="360.30" cy="561.60" r="1.55" fill="#0072BD"/><text x="388.48" y="567.80" font-size="27.00" textLength="78.60" lengthAdjust="spacingAndGlyphs">Gluons</text><text x="474.51" y="567.80" font-size="24.60" textLength="21.28" lengthAdjust="spacingAndGlyphs">1,</text><text x="503.55" y="567.80" font-size="24.60" textLength="13.10" lengthAdjust="spacingAndGlyphs">2</text><text x="520.02" y="567.80" font-size="19.50" textLength="15.84" lengthAdjust="spacingAndGlyphs" class="a">&amp;</text><text x="546.17" y="567.80" font-size="24.60" textLength="13.92" lengthAdjust="spacingAndGlyphs">3</text><circle cx="360.30" cy="593.20" r="1.55" fill="#D95319"/><text x="388.48" y="599.60" font-size="27.00" textLength="78.60" lengthAdjust="spacingAndGlyphs">Gluons</text><text x="475.99" y="599.60" font-size="24.60" textLength="19.66" lengthAdjust="spacingAndGlyphs">4,</text><text x="503.35" y="599.60" font-size="24.60" textLength="22.54" lengthAdjust="spacingAndGlyphs">5,</text><text x="532.68" y="599.60" font-size="24.60" textLength="11.82" lengthAdjust="spacingAndGlyphs">6</text><text x="549.49" y="600.80" font-size="19.50" textLength="16.49" lengthAdjust="spacingAndGlyphs" class="a">&amp;</text><text x="575.46" y="599.60" font-size="24.60" textLength="12.46" lengthAdjust="spacingAndGlyphs">7</text><circle cx="360.30" cy="624.80" r="1.55" fill="#EDB120"/><text x="388.48" y="631.40" font-size="27.00" textLength="68.03" lengthAdjust="spacingAndGlyphs">Gluon</text><text x="465.01" y="631.40" font-size="24.60" textLength="12.98" lengthAdjust="spacingAndGlyphs">8</text>
<rect x="331.50" y="1050.00" width="262.00" height="98.60" fill="#fff" stroke="#262626" stroke-width="1"/><circle cx="360.30" cy="1067.80" r="1.55" fill="#0072BD"/><text x="388.48" y="1074.00" font-size="27.00" textLength="78.60" lengthAdjust="spacingAndGlyphs">Gluons</text><text x="474.51" y="1074.00" font-size="24.60" textLength="21.28" lengthAdjust="spacingAndGlyphs">1,</text><text x="503.55" y="1074.00" font-size="24.60" textLength="13.10" lengthAdjust="spacingAndGlyphs">2</text><text x="518.12" y="1074.00" font-size="19.50" textLength="15.84" lengthAdjust="spacingAndGlyphs" class="a">&amp;</text><text x="546.17" y="1074.00" font-size="24.60" textLength="13.92" lengthAdjust="spacingAndGlyphs">3</text><circle cx="360.30" cy="1099.40" r="1.55" fill="#D95319"/><text x="388.48" y="1105.80" font-size="27.00" textLength="78.60" lengthAdjust="spacingAndGlyphs">Gluons</text><text x="475.99" y="1105.80" font-size="24.60" textLength="19.66" lengthAdjust="spacingAndGlyphs">4,</text><text x="503.35" y="1105.80" font-size="24.60" textLength="22.54" lengthAdjust="spacingAndGlyphs">5,</text><text x="532.68" y="1105.80" font-size="24.60" textLength="11.82" lengthAdjust="spacingAndGlyphs">6</text><text x="547.69" y="1105.80" font-size="19.50" textLength="16.49" lengthAdjust="spacingAndGlyphs" class="a">&amp;</text><text x="575.46" y="1105.80" font-size="24.60" textLength="12.46" lengthAdjust="spacingAndGlyphs">7</text><circle cx="360.30" cy="1131.00" r="1.55" fill="#EDB120"/><text x="388.48" y="1137.60" font-size="27.00" textLength="68.03" lengthAdjust="spacingAndGlyphs">Gluon</text><text x="465.01" y="1137.60" font-size="24.60" textLength="12.98" lengthAdjust="spacingAndGlyphs">8</text></svg></body></html>
